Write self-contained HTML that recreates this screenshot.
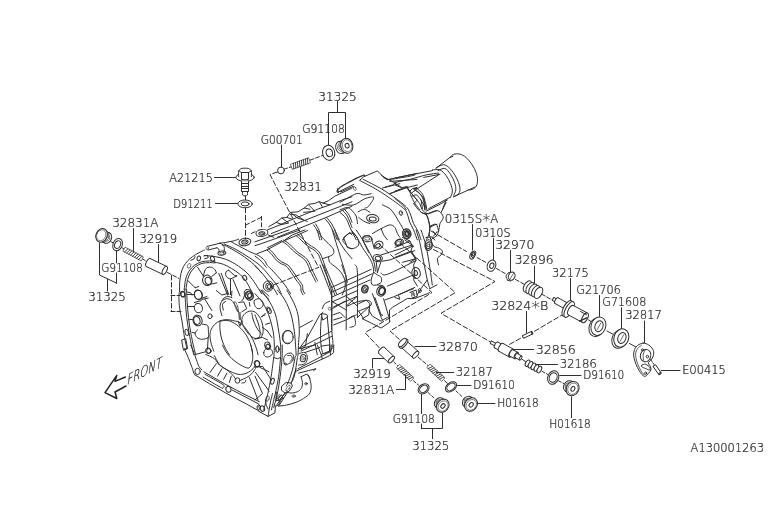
<!DOCTYPE html>
<html lang="en"><head><meta charset="utf-8"><title>A130001263</title>
<style>
html,body{margin:0;padding:0;background:#fff;}
body{width:778px;height:522px;overflow:hidden;}
svg{display:block;}
.g path,.g ellipse,.g circle{fill:none;stroke:#2e2e2e;stroke-width:1.0;stroke-linecap:round;stroke-linejoin:round;}
text{font-family:"DejaVu Sans Light","DejaVu Sans","Liberation Sans",sans-serif;font-size:11.6px;fill:#333;}
.ast{font-size:16px;}
svg{will-change:transform;transform:translateZ(0);}
.t{opacity:0.999;}
.front{font-size:12px;}
</style></head><body>
<svg width="778" height="522" viewBox="0 0 778 522">
<rect width="778" height="522" fill="#fff"/>
<g class="g">
<path d="M337.5 101.5 L337.5 112"/>
<path d="M328.5 145 L328.5 112.5 L345.5 112.5 L345.5 138"/>
<path d="M281.5 145 L281.5 167"/>
<path d="M300.5 167 L300.5 181.5"/>
<path d="M284.5 169 L291.5 166.8" style="stroke-dasharray:3 2"/>
<path d="M310 160.2 L322.5 155.5" style="stroke-dasharray:4 2"/>
<ellipse cx="281" cy="170.5" rx="3.4" ry="3.4"/>
<path d="M292.6 169.2 L310.5 162.8 L308.7 157.8 L290.8 164.2 Z" style="stroke-width:0.7;fill:#fff"/>
<path d="M293.8 168.8 L293.5 163.2" style="stroke-width:0.9"/>
<path d="M295.8 168.1 L295.5 162.5" style="stroke-width:0.9"/>
<path d="M297.8 167.4 L297.5 161.8" style="stroke-width:0.9"/>
<path d="M299.8 166.7 L299.5 161" style="stroke-width:0.9"/>
<path d="M301.8 166 L301.5 160.3" style="stroke-width:0.9"/>
<path d="M303.8 165.2 L303.5 159.6" style="stroke-width:0.9"/>
<path d="M305.8 164.5 L305.5 158.9" style="stroke-width:0.9"/>
<path d="M307.8 163.8 L307.5 158.2" style="stroke-width:0.9"/>
<ellipse cx="340.5" cy="147.5" rx="4.8" ry="6.1" transform="rotate(-15 340.5 147.5)" style="fill:#fff"/>
<path d="M348.4 151.7 L342.1 153.4 L338.9 141.6 L345.2 139.9 Z" style="fill:#fff;stroke:none"/>
<path d="M348.4 151.7 L342.1 153.4"/>
<path d="M345.2 139.9 L338.9 141.6"/>
<path d="M343.7 152.9 C342.6 152.2 338 150.3 337.5 148.3 C336.9 146.3 340 142.4 340.5 141.2" style="stroke-width:0.7"/>
<path d="M345.2 152.5 C344.2 151.7 339.5 149.8 339 147.9 C338.5 145.9 341.6 142 342.1 140.8" style="stroke-width:0.7"/>
<path d="M346.8 152.1 C345.8 151.3 341.1 149.4 340.6 147.5 C340.1 145.5 343.1 141.5 343.7 140.3" style="stroke-width:0.7"/>
<ellipse cx="346.8" cy="145.8" rx="6" ry="7.6" transform="rotate(-15 346.8 145.8)" style="fill:#fff"/>
<ellipse cx="347.2" cy="145.7" rx="4.8" ry="6.1" transform="rotate(-15 347.2 145.7)" style="stroke-width:0.55"/>
<ellipse cx="347.1" cy="145.7" rx="2" ry="2.3" transform="rotate(-15 347.1 145.7)"/>
<ellipse cx="328.7" cy="152.8" rx="6.1" ry="7.5" transform="rotate(-12 328.7 152.8)" style="fill:#fff"/>
<ellipse cx="329.3" cy="152.8" rx="3.2" ry="3.9" transform="rotate(-12 329.3 152.8)"/>
<path d="M277.5 172 L270 174.5 L288.4 210 L318.6 267.4" style="stroke-dasharray:5 2.5"/>
<path d="M214.5 177.5 L236.5 177.5"/>
<path d="M215.5 203.5 L237.5 203.5"/>
<ellipse cx="245.1" cy="177.3" rx="9.2" ry="4" style="fill:#fff"/>
<path d="M238.7 176.6 C238.7 175.7 238.3 172.3 238.7 171 C239.1 169.7 240.2 169.1 241.3 168.6 C242.4 168.1 243.8 168.2 245 168.2 C246.2 168.2 247.6 168.1 248.7 168.6 C249.8 169.1 250.9 169.7 251.3 171 C251.7 172.3 251.3 175.7 251.3 176.6" style="fill:#fff"/>
<path d="M241.6 172.5 L248.4 172.5"/>
<path d="M241.5 172.6 L241.5 179.2"/>
<path d="M248.5 172.6 L248.5 179.2"/>
<path d="M238.9 170.8 L241.6 172.6"/>
<path d="M251.1 170.8 L248.4 172.6"/>
<path d="M241.6 179.2 C242.2 179.3 243.9 179.9 245 179.9 C246.1 179.9 247.8 179.3 248.4 179.2"/>
<path d="M241.5 181.2 L241.5 191.5 L248.5 191.5 L248.5 181.2" style="fill:#fff"/>
<path d="M241.6 183.5 L248.6 183.5"/>
<path d="M241.6 186.5 L248.6 186.5"/>
<path d="M241.6 188.5 L248.6 188.5"/>
<path d="M242.7 191.8 C242.7 192.3 242.3 194.3 242.7 195 C243.1 195.7 244.2 196 245 196 C245.8 196 247 195.7 247.4 195 C247.8 194.3 247.4 192.3 247.4 191.8"/>
<path d="M245.5 196 L245.5 199.6"/>
<ellipse cx="245.1" cy="203.9" rx="7.2" ry="3.9" style="fill:#fff"/>
<ellipse cx="245.1" cy="203.9" rx="4" ry="2"/>
<path d="M245.5 207.8 L245.5 239" style="stroke-dasharray:5 2.5"/>
<path d="M245.8 225 L261.3 217.3" style="stroke-dasharray:4 2.5"/>
<path d="M261.5 216.3 L261.5 229" style="stroke-dasharray:4 2.5"/>
<path d="M133.5 228.5 L133.5 254"/>
<path d="M158.5 244.5 L158.5 262.5"/>
<path d="M99.5 243 L99.5 275 L116.7 283.2"/>
<path d="M116.5 250.5 L116.5 262.8"/>
<path d="M116.5 273 L116.5 283.2"/>
<path d="M107.5 279.3 L107.5 291"/>
<path d="M106.5 239.5 L113.5 243" style="stroke-dasharray:3 2"/>
<path d="M121.5 247.5 L125 249.5" style="stroke-dasharray:3 2"/>
<path d="M142.5 259 L147 261.5" style="stroke-dasharray:3 2"/>
<path d="M167.5 272.5 L179 278.5" style="stroke-dasharray:4 2"/>
<path d="M171.5 275.5 L171.5 311" style="stroke-dasharray:4.5 2.5"/>
<path d="M171 295.5 L180 295.5" style="stroke-dasharray:4 2"/>
<path d="M171 311.5 L181 311.5" style="stroke-dasharray:4 2"/>
<ellipse cx="107" cy="237.9" rx="4.5" ry="5.6" transform="rotate(205 107 237.9)" style="fill:#fff"/>
<path d="M104 230.3 L109.4 232.9 L104.7 243 L99.2 240.5 Z" style="fill:#fff;stroke:none"/>
<path d="M104 230.3 L109.4 232.9"/>
<path d="M99.2 240.5 L104.7 243"/>
<path d="M108 232.2 C108.3 233.4 110.5 237.5 109.7 239.2 C108.9 240.9 104.4 241.8 103.3 242.4" style="stroke-width:0.7"/>
<path d="M106.7 231.6 C107 232.8 109.2 236.9 108.4 238.6 C107.6 240.3 103 241.2 102 241.7" style="stroke-width:0.7"/>
<path d="M105.3 231 C105.6 232.1 107.8 236.2 107 237.9 C106.2 239.6 101.7 240.6 100.6 241.1" style="stroke-width:0.7"/>
<ellipse cx="101.6" cy="235.4" rx="5.6" ry="7" transform="rotate(205 101.6 235.4)" style="fill:#fff"/>
<ellipse cx="101.2" cy="235.2" rx="4.5" ry="5.6" transform="rotate(205 101.2 235.2)" style="stroke-width:0.55"/>
<ellipse cx="117.6" cy="244.6" rx="4.6" ry="6.4" transform="rotate(22 117.6 244.6)" style="fill:#fff"/>
<ellipse cx="117.6" cy="244.6" rx="2.9" ry="4" transform="rotate(22 117.6 244.6)"/>
<path d="M123.2 251.3 L141.2 260.9 L143.4 256.9 L125.4 247.3 Z" style="stroke-width:0.7;fill:#fff"/>
<path d="M124.5 252 L128.1 248.7" style="stroke-width:0.9"/>
<path d="M126.5 253.1 L130.1 249.8" style="stroke-width:0.9"/>
<path d="M128.5 254.2 L132.1 250.8" style="stroke-width:0.9"/>
<path d="M130.5 255.2 L134.1 251.9" style="stroke-width:0.9"/>
<path d="M132.5 256.3 L136.1 253" style="stroke-width:0.9"/>
<path d="M134.5 257.4 L138.1 254" style="stroke-width:0.9"/>
<path d="M136.5 258.4 L140.1 255.1" style="stroke-width:0.9"/>
<path d="M138.5 259.5 L142.1 256.2" style="stroke-width:0.9"/>
<path d="M146.4 266.6 L162.9 274.4 L166.7 266.4 L150.2 258.6 Z" style="fill:#fff;stroke:none"/>
<ellipse cx="148.3" cy="262.6" rx="2" ry="4.4" transform="rotate(25.3 148.3 262.6)" style="fill:#fff"/>
<path d="M146.4 266.6 L162.9 274.4 L166.7 266.4 L150.2 258.6 Z" style="fill:#fff;stroke:none"/>
<path d="M146.4 266.6 L162.9 274.4"/>
<path d="M150.2 258.6 L166.7 266.4"/>
<ellipse cx="164.8" cy="270.4" rx="2" ry="4.4" transform="rotate(25.3 164.8 270.4)" style="fill:#fff"/>
<path d="M472.5 224.5 L472.5 250"/>
<path d="M493.5 238.5 L493.5 259.5"/>
<path d="M510.5 250.5 L510.5 272"/>
<path d="M534.5 266 L534.5 283"/>
<path d="M570.5 278.5 L570.5 302"/>
<path d="M599.5 295.5 L599.5 316.5"/>
<path d="M621.5 307.8 L621.5 329"/>
<path d="M644.5 321 L644.5 343"/>
<path d="M431 231 L466.5 251.5" style="stroke-dasharray:5 2.5"/>
<path d="M477 257.5 L486 262.5" style="stroke-dasharray:4 2"/>
<path d="M496.5 268.5 L506 274" style="stroke-dasharray:4 2"/>
<path d="M515.5 279.5 L525.5 285" style="stroke-dasharray:4 2"/>
<path d="M541.5 294 L553 300.5" style="stroke-dasharray:4 2"/>
<path d="M588.5 320 L591.5 321.8"/>
<path d="M607 331 L612.5 334"/>
<path d="M629.5 343.5 L636 347"/>
<ellipse cx="472.4" cy="255.4" rx="2.3" ry="3.9" transform="rotate(22 472.4 255.4)" style="fill:#fff"/>
<ellipse cx="473.6" cy="254.2" rx="1.9" ry="3.3" transform="rotate(22 473.6 254.2)" style="fill:#fff"/>
<ellipse cx="473.6" cy="254.2" rx="0.9" ry="1.8" transform="rotate(22 473.6 254.2)"/>
<ellipse cx="491.5" cy="265.7" rx="4.2" ry="5.8" transform="rotate(20 491.5 265.7)" style="fill:#fff"/>
<ellipse cx="491.8" cy="265.7" rx="2" ry="2.8" transform="rotate(20 491.8 265.7)"/>
<path d="M508.3 272.9 C507.9 273.4 506.1 274.8 506 276 C505.9 277.2 507.3 279.5 507.6 280.2"/>
<path d="M508.3 272.9 L511.3 272.4"/>
<path d="M507.6 280.2 L510.6 281"/>
<ellipse cx="511.7" cy="276.2" rx="3.2" ry="4.2" transform="rotate(20 511.7 276.2)" style="fill:#fff"/>
<path d="M510.2 278.8 L513.4 273.6" style="stroke-width:0.7"/>
<ellipse cx="527.5" cy="286.5" rx="3.5" ry="6.2" transform="rotate(29.8 527.5 286.5)" style="fill:#fff"/>
<ellipse cx="530.2" cy="288.1" rx="3.5" ry="6.2" transform="rotate(29.8 530.2 288.1)" style="fill:#fff"/>
<ellipse cx="533" cy="289.6" rx="3.5" ry="6.2" transform="rotate(29.8 533 289.6)" style="fill:#fff"/>
<ellipse cx="535.8" cy="291.2" rx="3.5" ry="6.2" transform="rotate(29.8 535.8 291.2)" style="fill:#fff"/>
<ellipse cx="538.5" cy="292.8" rx="3.5" ry="6.2" transform="rotate(29.8 538.5 292.8)" style="fill:#fff"/>
<path d="M552.8 300.7 L556 302.5 L557.6 299.5 L554.4 297.7 Z" style="fill:#fff;stroke:none"/>
<ellipse cx="553.6" cy="299.2" rx="0.8" ry="1.7" transform="rotate(29.4 553.6 299.2)" style="fill:#fff"/>
<path d="M552.8 300.7 L556 302.5 L557.6 299.5 L554.4 297.7 Z" style="fill:#fff;stroke:none"/>
<path d="M552.8 300.7 L556 302.5"/>
<path d="M554.4 297.7 L557.6 299.5"/>
<ellipse cx="556.8" cy="301" rx="0.8" ry="1.7" transform="rotate(29.4 556.8 301)" style="fill:#fff"/>
<path d="M554.9 303.4 L564.4 308.7 L567.6 303.1 L558.1 297.8 Z" style="fill:#fff;stroke:none"/>
<ellipse cx="556.5" cy="300.6" rx="1.4" ry="3.2" transform="rotate(29.2 556.5 300.6)" style="fill:#fff"/>
<path d="M554.9 303.4 L564.4 308.7 L567.6 303.1 L558.1 297.8 Z" style="fill:#fff;stroke:none"/>
<path d="M554.9 303.4 L564.4 308.7"/>
<path d="M558.1 297.8 L567.6 303.1"/>
<ellipse cx="566" cy="305.9" rx="1.4" ry="3.2" transform="rotate(29.2 566 305.9)" style="fill:#fff"/>
<ellipse cx="567.2" cy="308.3" rx="3.6" ry="8.8" transform="rotate(29 567.2 308.3)" style="fill:#fff"/>
<ellipse cx="569.2" cy="309.5" rx="3.6" ry="8.8" transform="rotate(29 569.2 309.5)" style="fill:#fff"/>
<path d="M568.5 315 L582.5 322.5 L587.5 313.1 L573.5 305.6 Z" style="fill:#fff;stroke:none"/>
<ellipse cx="571" cy="310.3" rx="2.6" ry="5.3" transform="rotate(28.2 571 310.3)" style="fill:#fff"/>
<path d="M568.5 315 L582.5 322.5 L587.5 313.1 L573.5 305.6 Z" style="fill:#fff;stroke:none"/>
<path d="M568.5 315 L582.5 322.5"/>
<path d="M573.5 305.6 L587.5 313.1"/>
<ellipse cx="585" cy="317.8" rx="2.6" ry="5.3" transform="rotate(28.2 585 317.8)" style="fill:#fff"/>
<path d="M580.5 311.5 L586.5 314.8"/>
<path d="M579.5 321.2 L586.8 317.8" style="stroke-width:1.3"/>
<ellipse cx="596.4" cy="327.3" rx="7.3" ry="9.4" transform="rotate(20 596.4 327.3)" style="fill:#fff"/>
<ellipse cx="598.4" cy="326.2" rx="7.3" ry="9.4" transform="rotate(20 598.4 326.2)" style="fill:#fff"/>
<ellipse cx="599" cy="326.2" rx="4" ry="5.6" transform="rotate(20 599 326.2)"/>
<path d="M597.2 329.4 L600.8 323" style="stroke-width:0.7"/>
<ellipse cx="619.3" cy="339.1" rx="7.3" ry="9.4" transform="rotate(20 619.3 339.1)" style="fill:#fff"/>
<ellipse cx="621.3" cy="338" rx="7.3" ry="9.4" transform="rotate(20 621.3 338)" style="fill:#fff"/>
<ellipse cx="621.9" cy="338" rx="4" ry="5.6" transform="rotate(20 621.9 338)"/>
<path d="M620.1 341.2 L623.7 334.8" style="stroke-width:0.7"/>
<path d="M643.2 343.1 C645.1 343 647.3 344.1 648.9 345.1 C650.5 346.2 652 347.9 652.8 349.4 C653.6 350.9 653.9 352.6 653.7 354.2 C653.5 355.8 652.6 357.6 651.8 358.9 C651 360.2 649.5 361.1 648.9 361.8 C648.3 362.5 648 362.2 648.2 363 C648.5 363.8 650 365.4 650.4 366.6 C650.8 367.8 651.2 368.9 650.9 370 C650.6 371.1 649.4 372.3 648.5 373.3 C647.6 374.3 646.5 375.8 645.6 376.2 C644.7 376.6 644.1 376.3 643.2 375.7 C642.3 375.1 641.2 373.8 640.3 372.4 C639.3 371 638.4 369.4 637.5 367.6 C636.6 365.8 635.8 363.9 635.1 361.8 C634.5 359.7 633.7 357.2 633.6 355.1 C633.5 353 634 351 634.6 349.4 C635.2 347.8 636.1 346.6 637.5 345.5 C638.9 344.4 641.3 343.2 643.2 343.1 Z" style="fill:#fff"/>
<path d="M641.5 345.2 C640.9 345.8 638.6 347.1 637.6 348.5 C636.6 349.9 635.8 351.6 635.6 353.5 C635.4 355.4 635.8 357.8 636.4 360 C637 362.2 638 364.8 639 367 C640 369.2 641.5 371.7 642.4 373 C643.3 374.3 644.1 374.3 644.5 374.6" style="stroke-width:0.8"/>
<ellipse cx="645.6" cy="355.6" rx="5.2" ry="6.2" transform="rotate(15 645.6 355.6)"/>
<path d="M645.6 349.5 C645.2 350.2 643.7 352.2 643.3 354 C642.9 355.8 643.4 359 643.4 360" style="stroke-width:0.8"/>
<ellipse cx="647.4" cy="356.6" rx="1.2" ry="1.3"/>
<ellipse cx="642.5" cy="349.9" rx="1" ry="1"/>
<path d="M641.8 365.2 C642.4 364.7 644.2 363.8 645.6 364.2 C647 364.6 649.3 366.6 649.9 367.6 C650.5 368.6 650.1 369.9 649.4 370 C648.7 370.1 646.8 369 645.6 368.5 C644.4 368 642.8 367.7 642.2 367.1 C641.6 366.6 641.2 365.7 641.8 365.2 Z"/>
<ellipse cx="645.7" cy="373.2" rx="1" ry="1.2"/>
<path d="M653.4 366.9 L658.7 374.5 L661.1 372.7 L655.8 365.1 Z" style="fill:#fff;stroke:none"/>
<ellipse cx="654.6" cy="366" rx="0.7" ry="1.5" transform="rotate(55.1 654.6 366)" style="fill:#fff"/>
<path d="M653.4 366.9 L658.7 374.5 L661.1 372.7 L655.8 365.1 Z" style="fill:#fff;stroke:none"/>
<path d="M653.4 366.9 L658.7 374.5"/>
<path d="M655.8 365.1 L661.1 372.7"/>
<ellipse cx="659.9" cy="373.6" rx="0.7" ry="1.5" transform="rotate(55.1 659.9 373.6)" style="fill:#fff"/>
<path d="M650.5 359.5 L654 364.5" style="stroke-dasharray:2.5 1.5"/>
<path d="M661.3 370.5 L680 370.5"/>
<path d="M526.5 311.5 L526.5 332.5"/>
<path d="M523.9 338.1 L532.6 334 L531.4 331.4 L522.7 335.5 Z" style="fill:#fff;stroke:none"/>
<ellipse cx="523.3" cy="336.8" rx="0.6" ry="1.4" transform="rotate(-25.2 523.3 336.8)" style="fill:#fff"/>
<path d="M523.9 338.1 L532.6 334 L531.4 331.4 L522.7 335.5 Z" style="fill:#fff;stroke:none"/>
<path d="M523.9 338.1 L532.6 334"/>
<path d="M522.7 335.5 L531.4 331.4"/>
<ellipse cx="532" cy="332.7" rx="0.6" ry="1.4" transform="rotate(-25.2 532 332.7)" style="fill:#fff"/>
<path d="M534.5 331.3 L561.5 315.3" style="stroke-dasharray:5 2.5"/>
<path d="M520.5 338.3 L507.5 345.5" style="stroke-dasharray:5 2.5"/>
<path d="M433.5 249.5 L495 281.5 L441 313.3 L490.5 342" style="stroke-dasharray:5 2.5"/>
<path d="M490.5 343.6 L495.8 346.5 L497.2 344.1 L491.9 341.2 Z" style="fill:#fff;stroke:none"/>
<ellipse cx="491.2" cy="342.4" rx="0.6" ry="1.4" transform="rotate(28.7 491.2 342.4)" style="fill:#fff"/>
<path d="M490.5 343.6 L495.8 346.5 L497.2 344.1 L491.9 341.2 Z" style="fill:#fff;stroke:none"/>
<path d="M490.5 343.6 L495.8 346.5"/>
<path d="M491.9 341.2 L497.2 344.1"/>
<ellipse cx="496.5" cy="345.3" rx="0.6" ry="1.4" transform="rotate(28.7 496.5 345.3)" style="fill:#fff"/>
<path d="M494.7 347.9 L499.4 350.5 L502.6 344.7 L497.9 342.1 Z" style="fill:#fff;stroke:none"/>
<ellipse cx="496.3" cy="345" rx="1.5" ry="3.3" transform="rotate(29 496.3 345)" style="fill:#fff"/>
<path d="M494.7 347.9 L499.4 350.5 L502.6 344.7 L497.9 342.1 Z" style="fill:#fff;stroke:none"/>
<path d="M494.7 347.9 L499.4 350.5"/>
<path d="M497.9 342.1 L502.6 344.7"/>
<ellipse cx="501" cy="347.6" rx="1.5" ry="3.3" transform="rotate(29 501 347.6)" style="fill:#fff"/>
<path d="M498.9 351.3 L509.4 357.1 L513.6 349.3 L503.1 343.5 Z" style="fill:#fff;stroke:none"/>
<ellipse cx="501" cy="347.4" rx="2" ry="4.4" transform="rotate(28.9 501 347.4)" style="fill:#fff"/>
<path d="M498.9 351.3 L509.4 357.1 L513.6 349.3 L503.1 343.5 Z" style="fill:#fff;stroke:none"/>
<path d="M498.9 351.3 L509.4 357.1"/>
<path d="M503.1 343.5 L513.6 349.3"/>
<ellipse cx="511.5" cy="353.2" rx="2" ry="4.4" transform="rotate(28.9 511.5 353.2)" style="fill:#fff"/>
<path d="M509.8 356.1 L514.6 358.7 L518 352.5 L513.2 349.9 Z" style="fill:#fff;stroke:none"/>
<ellipse cx="511.5" cy="353" rx="1.6" ry="3.5" transform="rotate(28.4 511.5 353)" style="fill:#fff"/>
<path d="M509.8 356.1 L514.6 358.7 L518 352.5 L513.2 349.9 Z" style="fill:#fff;stroke:none"/>
<path d="M509.8 356.1 L514.6 358.7"/>
<path d="M513.2 349.9 L518 352.5"/>
<ellipse cx="516.3" cy="355.6" rx="1.6" ry="3.5" transform="rotate(28.4 516.3 355.6)" style="fill:#fff"/>
<path d="M515.2 357.6 L519.5 360 L521.7 356 L517.4 353.6 Z" style="fill:#fff;stroke:none"/>
<ellipse cx="516.3" cy="355.6" rx="1" ry="2.3" transform="rotate(29.2 516.3 355.6)" style="fill:#fff"/>
<path d="M515.2 357.6 L519.5 360 L521.7 356 L517.4 353.6 Z" style="fill:#fff;stroke:none"/>
<path d="M515.2 357.6 L519.5 360"/>
<path d="M517.4 353.6 L521.7 356"/>
<ellipse cx="520.6" cy="358" rx="1" ry="2.3" transform="rotate(29.2 520.6 358)" style="fill:#fff"/>
<path d="M512.5 349.5 L533.7 349.5"/>
<path d="M522 359.3 L525.5 361.5"/>
<ellipse cx="527.6" cy="363.2" rx="2" ry="3.5" transform="rotate(28.7 527.6 363.2)" style="fill:#fff"/>
<ellipse cx="530.5" cy="364.8" rx="2" ry="3.5" transform="rotate(28.7 530.5 364.8)" style="fill:#fff"/>
<ellipse cx="533.5" cy="366.4" rx="2" ry="3.5" transform="rotate(28.7 533.5 366.4)" style="fill:#fff"/>
<ellipse cx="536.4" cy="368" rx="2" ry="3.5" transform="rotate(28.7 536.4 368)" style="fill:#fff"/>
<ellipse cx="539.3" cy="369.6" rx="2" ry="3.5" transform="rotate(28.7 539.3 369.6)" style="fill:#fff"/>
<path d="M536 364.5 L557.5 364.5"/>
<path d="M542 371.3 L547.5 374.3" style="stroke-dasharray:3 2"/>
<ellipse cx="553.2" cy="377.5" rx="5.4" ry="7" transform="rotate(22 553.2 377.5)" style="fill:#fff"/>
<ellipse cx="553.2" cy="377.5" rx="3.8" ry="4.9" transform="rotate(22 553.2 377.5)"/>
<path d="M559.7 375.5 L581 375.5"/>
<path d="M558.5 380.8 L564 383.7" style="stroke-dasharray:3 2"/>
<ellipse cx="568.7" cy="386.4" rx="5" ry="5.9" transform="rotate(30 568.7 386.4)" style="fill:#fff"/>
<path d="M569.6 393.7 L565.7 391.5 L571.7 381.2 L575.6 383.5 Z" style="fill:#fff;stroke:none"/>
<path d="M569.6 393.7 L565.7 391.5"/>
<path d="M575.6 383.5 L571.7 381.2"/>
<path d="M566.7 392 C566.5 390.8 564.4 386.1 565.4 384.4 C566.4 382.7 571.4 382.2 572.6 381.8" style="stroke-width:0.7"/>
<path d="M567.7 392.6 C567.5 391.3 565.4 386.7 566.4 385 C567.3 383.3 572.4 382.8 573.6 382.3" style="stroke-width:0.7"/>
<path d="M568.7 393.2 C568.4 391.9 566.3 387.3 567.3 385.6 C568.3 383.8 573.4 383.4 574.6 382.9" style="stroke-width:0.7"/>
<ellipse cx="572.6" cy="388.6" rx="6.2" ry="7.4" transform="rotate(30 572.6 388.6)" style="fill:#fff"/>
<ellipse cx="572.9" cy="388.8" rx="5" ry="5.9" transform="rotate(30 572.9 388.8)" style="stroke-width:0.55"/>
<ellipse cx="572.9" cy="388.8" rx="1.8" ry="2.5" transform="rotate(30 572.9 388.8)"/>
<path d="M571.5 396.8 L571.5 417.6"/>
<path d="M400 243 L455.3 292.6 L390 331 L400 340" style="stroke-dasharray:5 2.5"/>
<path d="M401.4 347.5 L412.9 357.8 L418.5 351.6 L407 341.3 Z" style="fill:#fff;stroke:none"/>
<ellipse cx="404.2" cy="344.4" rx="1.9" ry="4.2" transform="rotate(41.8 404.2 344.4)" style="fill:#fff"/>
<path d="M401.4 347.5 L412.9 357.8 L418.5 351.6 L407 341.3 Z" style="fill:#fff;stroke:none"/>
<path d="M401.4 347.5 L412.9 357.8"/>
<path d="M407 341.3 L418.5 351.6"/>
<ellipse cx="415.7" cy="354.7" rx="1.9" ry="4.2" transform="rotate(41.8 415.7 354.7)" style="fill:#fff"/>
<ellipse cx="403.6" cy="343.6" rx="2.6" ry="5.6" transform="rotate(42 403.6 343.6)" style="fill:#fff"/>
<ellipse cx="402.4" cy="342.5" rx="2.4" ry="5.2" transform="rotate(42 402.4 342.5)" style="fill:#fff"/>
<path d="M415 346.5 L436 346.5"/>
<path d="M418.3 357.2 L428 365.6" style="stroke-dasharray:4 2"/>
<path d="M427.1 367.7 L441.7 381.3 L444.9 377.9 L430.3 364.3 Z" style="stroke-width:0.7;fill:#fff"/>
<path d="M428.2 368.6 L432.5 366.4" style="stroke-width:0.9"/>
<path d="M429.8 370.2 L434.1 367.9" style="stroke-width:0.9"/>
<path d="M431.4 371.7 L435.7 369.4" style="stroke-width:0.9"/>
<path d="M433 373.2 L437.3 370.9" style="stroke-width:0.9"/>
<path d="M434.7 374.7 L439 372.4" style="stroke-width:0.9"/>
<path d="M436.3 376.2 L440.6 373.9" style="stroke-width:0.9"/>
<path d="M437.9 377.7 L442.2 375.4" style="stroke-width:0.9"/>
<path d="M439.5 379.2 L443.8 377" style="stroke-width:0.9"/>
<path d="M436.5 372.5 L453.7 372.5"/>
<path d="M444.5 380.7 L447.5 383.3"/>
<ellipse cx="451" cy="386.9" rx="6.4" ry="4.2" transform="rotate(-38 451 386.9)" style="fill:#fff"/>
<ellipse cx="451" cy="386.9" rx="4.7" ry="3.1" transform="rotate(-38 451 386.9)"/>
<path d="M457.5 385.5 L471 385.5"/>
<path d="M456 391 L462.5 397" style="stroke-dasharray:3 2"/>
<ellipse cx="467.6" cy="401.7" rx="4.8" ry="5.8" transform="rotate(40 467.6 401.7)" style="fill:#fff"/>
<path d="M467.3 409 L463.9 406.1 L471.3 397.3 L474.7 400.2 Z" style="fill:#fff;stroke:none"/>
<path d="M467.3 409 L463.9 406.1"/>
<path d="M474.7 400.2 L471.3 397.3"/>
<path d="M464.7 406.8 C464.7 405.6 463.5 400.8 464.7 399.3 C466 397.9 470.9 398.2 472.1 398" style="stroke-width:0.7"/>
<path d="M465.6 407.6 C465.6 406.3 464.4 401.5 465.6 400.1 C466.8 398.6 471.7 399 473 398.7" style="stroke-width:0.7"/>
<path d="M466.4 408.3 C466.4 407 465.2 402.3 466.5 400.8 C467.7 399.3 472.6 399.7 473.8 399.5" style="stroke-width:0.7"/>
<ellipse cx="471" cy="404.6" rx="6" ry="7.2" transform="rotate(40 471 404.6)" style="fill:#fff"/>
<ellipse cx="471.3" cy="404.9" rx="4.8" ry="5.8" transform="rotate(40 471.3 404.9)" style="stroke-width:0.55"/>
<ellipse cx="471.2" cy="404.8" rx="1.8" ry="2.5" transform="rotate(40 471.2 404.8)"/>
<path d="M477.5 403.5 L495 403.5"/>
<path d="M379.5 244.5 L432 292.6 L365 332.7 L380.5 349" style="stroke-dasharray:5 2.5"/>
<path d="M378.8 353.4 L388.6 362.7 L394.2 356.7 L384.4 347.4 Z" style="fill:#fff;stroke:none"/>
<ellipse cx="381.6" cy="350.4" rx="1.8" ry="4.1" transform="rotate(43.5 381.6 350.4)" style="fill:#fff"/>
<path d="M378.8 353.4 L388.6 362.7 L394.2 356.7 L384.4 347.4 Z" style="fill:#fff;stroke:none"/>
<path d="M378.8 353.4 L388.6 362.7"/>
<path d="M384.4 347.4 L394.2 356.7"/>
<ellipse cx="391.4" cy="359.7" rx="1.8" ry="4.1" transform="rotate(43.5 391.4 359.7)" style="fill:#fff"/>
<path d="M384 358.5 L372.5 358.5 L372.5 368"/>
<path d="M393.8 362 L397.8 365.8" style="stroke-dasharray:3 2"/>
<path d="M396.6 368 L410.7 381.3 L413.9 377.9 L399.8 364.6 Z" style="stroke-width:0.7;fill:#fff"/>
<path d="M397.6 368.9 L401.9 366.7" style="stroke-width:0.9"/>
<path d="M399.2 370.4 L403.5 368.1" style="stroke-width:0.9"/>
<path d="M400.7 371.9 L405.1 369.6" style="stroke-width:0.9"/>
<path d="M402.3 373.3 L406.6 371.1" style="stroke-width:0.9"/>
<path d="M403.9 374.8 L408.2 372.6" style="stroke-width:0.9"/>
<path d="M405.4 376.3 L409.8 374" style="stroke-width:0.9"/>
<path d="M407 377.8 L411.3 375.5" style="stroke-width:0.9"/>
<path d="M408.6 379.2 L412.9 377" style="stroke-width:0.9"/>
<path d="M405.5 375 L405.5 389.5 L396.5 389.5"/>
<path d="M413.5 380.8 L418.5 385" style="stroke-dasharray:3 2"/>
<ellipse cx="423.6" cy="388.8" rx="6" ry="4.5" transform="rotate(-38 423.6 388.8)" style="fill:#fff"/>
<ellipse cx="423.6" cy="388.8" rx="4.3" ry="3.2" transform="rotate(-38 423.6 388.8)"/>
<path d="M428 392.5 L434 398" style="stroke-dasharray:3 2"/>
<ellipse cx="439.4" cy="402.9" rx="4.6" ry="5.6" transform="rotate(40 439.4 402.9)" style="fill:#fff"/>
<path d="M439.2 410.1 L435.8 407.2 L443 398.6 L446.4 401.5 Z" style="fill:#fff;stroke:none"/>
<path d="M439.2 410.1 L435.8 407.2"/>
<path d="M446.4 401.5 L443 398.6"/>
<path d="M436.6 407.9 C436.6 406.7 435.5 402.1 436.7 400.6 C437.9 399.2 442.6 399.6 443.8 399.3" style="stroke-width:0.7"/>
<path d="M437.5 408.6 C437.5 407.4 436.3 402.8 437.5 401.4 C438.7 399.9 443.5 400.3 444.7 400.1" style="stroke-width:0.7"/>
<path d="M438.3 409.4 C438.3 408.2 437.2 403.5 438.4 402.1 C439.6 400.7 444.3 401 445.5 400.8" style="stroke-width:0.7"/>
<ellipse cx="442.8" cy="405.8" rx="5.8" ry="7" transform="rotate(40 442.8 405.8)" style="fill:#fff"/>
<ellipse cx="443.1" cy="406.1" rx="4.6" ry="5.6" transform="rotate(40 443.1 406.1)" style="stroke-width:0.55"/>
<ellipse cx="443" cy="406" rx="1.8" ry="2.5" transform="rotate(40 443 406)"/>
<path d="M421.5 394.5 L421.5 413.5"/>
<path d="M421.5 424 L421.5 428.7"/>
<path d="M421.7 428.5 L442.5 428.5 L442.5 412.7"/>
<path d="M432.5 428.7 L432.5 438.7"/>
<path d="M125.4 377 L115 381.4 L116.8 375.4 L105 392.6 L116.8 398.5 L115 392 L126 386" style="stroke-width:1.5;stroke:#222"/>
<path d="M204.4 250 C203.5 250.4 200.8 251.7 198.8 252.8 C196.8 253.9 194.4 255.2 192.6 256.6 C190.7 257.9 189.1 259.3 187.6 260.9 C186.1 262.6 184.6 264.5 183.5 266.5 C182.4 268.6 181.6 270.8 181 273.4 C180.4 276 180 279.2 179.7 282.1 C179.5 285 179.6 288.3 179.5 290.9 C179.3 293.4 178.8 294.5 178.9 297.5 C178.9 300.5 179.2 304.8 179.7 308.7 C180.3 312.7 181.2 316.4 182 321.2 C182.8 326 183.7 332.8 184.5 337.4 C185.3 342 186.7 346.7 186.7 348.6 C186.7 350.5 184.2 347.3 184.5 348.7 C184.7 350.2 187 354.4 188.2 357.5 C189.5 360.6 191 364.8 192 367.4 C192.9 370 193.3 371.8 193.8 373.1 C194.3 374.3 194.9 374.6 195.1 374.9"/>
<ellipse cx="207.2" cy="248.1" rx="1.2" ry="1.7" transform="rotate(10 207.2 248.1)" style="stroke-width:0.6"/>
<path d="M207.5 246.3 L220 243.2"/>
<path d="M208.2 250 L216.9 247.8"/>
<path d="M220 243.2 C220.5 243.5 222.4 244.1 223.1 245 C223.8 245.9 224.3 247.2 224.4 248.5 C224.5 249.8 223.8 252.1 223.7 252.8"/>
<path d="M216.9 247.8 C217.2 248.1 218.4 248.4 218.8 249.1 C219.1 249.8 219.1 251.7 219.1 252.2"/>
<ellipse cx="221.9" cy="253.1" rx="4" ry="2.1" transform="rotate(-8 221.9 253.1)"/>
<ellipse cx="221.9" cy="253.3" rx="2.1" ry="1.1" transform="rotate(-8 221.9 253.3)" style="stroke-width:0.6"/>
<path d="M220 243.2 C221.1 243.1 224.7 242.6 226.9 242.2 C229 241.9 231.1 241.5 233.1 241 C235.1 240.5 237.8 239.5 238.7 239.2"/>
<ellipse cx="244.9" cy="242" rx="6" ry="3.7" transform="rotate(-10 244.9 242)"/>
<ellipse cx="244.9" cy="242" rx="3.2" ry="2" transform="rotate(-10 244.9 242)"/>
<ellipse cx="244.9" cy="242" rx="1.5" ry="1" transform="rotate(-10 244.9 242)" style="stroke-width:0.6"/>
<path d="M222.2 245.2 C222.9 245.3 223.3 244.7 226.4 246.2 C229.5 247.8 236.2 251.4 240.9 254.5 C245.5 257.6 250.9 261.7 254.3 264.8 C257.8 268 260.4 271.7 261.6 273.1"/>
<path d="M224.3 244.1 C226.2 245 231.6 247.1 235.7 249.3 C239.8 251.6 245 254.8 249.2 257.6 C253.3 260.4 257.3 262.9 260.5 265.9 C263.8 268.8 266.1 271.9 268.8 275.2 C271.6 278.5 275 282.4 277.1 285.5 C279.2 288.7 280.6 292.4 281.3 293.8"/>
<path d="M204.6 255.5 C206.4 255.7 211.5 256 215 256.6 C218.5 257.2 221.9 257.9 225.4 259.2 C228.8 260.4 232.3 262.2 235.7 264.3 C239.2 266.5 243.3 269.6 246.1 272.1 C248.8 274.6 250.2 276.6 252.3 279.3 C254.3 282.1 256.9 286.2 258.5 288.7 C260 291.1 261.1 293 261.6 293.8"/>
<path d="M231.6 242.1 C234.5 243.6 244.7 249.1 249.2 251.4 C253.6 253.6 255.9 254 258.5 255.5 C261.1 257.1 263.2 259.1 264.7 260.7 C266.2 262.3 265.9 263.6 267.3 265.4 C268.7 267.1 270.6 268.6 273 271.1 C275.3 273.6 278.8 277.4 281.3 280.4 C283.7 283.3 285.9 286.4 287.5 288.7 C289 290.9 290.1 293 290.6 293.8"/>
<ellipse cx="268.3" cy="286.1" rx="5" ry="5.2" style="fill:#fff"/>
<ellipse cx="268.8" cy="286.3" rx="3.1" ry="3.4"/>
<ellipse cx="269.1" cy="286.5" rx="1.8" ry="2"/>
<path d="M195.7 354.8 C195.4 353.6 194.7 351.1 193.8 347.4 C193 343.6 191.6 337.4 190.7 332.4 C189.8 327.4 189 322.4 188.5 317.4 C187.9 312.4 187.5 307 187.2 302.5 C186.9 297.9 186.7 292.1 186.5 290 C186.3 287.9 185.8 291.3 186 289.6 C186.2 287.9 186.8 282.6 187.6 279.6 C188.4 276.7 189.4 274.3 190.7 272.2 C192.1 270 193.8 268 195.7 266.5 C197.6 265.1 199.6 264.1 201.9 263.4 C204.2 262.8 207.2 262.6 209.4 262.6 C211.6 262.5 214.1 263 215 262.9 C215.9 262.9 213.6 262 215 262.3 C216.4 262.5 220.5 263.3 223.3 264.3 C226 265.4 228.8 266.8 231.6 268.5 C234.3 270.1 237.4 272 239.8 274.2 C242.3 276.3 244.3 279 246.1 281.4 C247.8 283.8 249.1 286.6 250.2 288.7 C251.3 290.7 252.4 293 252.8 293.8"/>
<path d="M193.8 354.8 C193.5 353.6 192.8 351.1 192 347.4 C191.1 343.6 189.8 337.4 189 332.4 C188.1 327.4 187.3 322.4 186.7 317.4 C186.1 312.4 185.8 307 185.5 302.5 C185.1 297.9 184.9 292.1 184.7 290 C184.5 287.9 184.1 291.4 184.2 289.6 C184.4 287.8 184.9 282.1 185.7 279 C186.5 275.9 187.6 273.4 189.1 271.2 C190.5 268.9 192.4 266.8 194.4 265.3 C196.5 263.8 198.8 262.7 201.3 261.9 C203.8 261.2 207.1 261 209.4 260.9 C211.7 260.8 214.1 261.2 215 261.3"/>
<ellipse cx="189.1" cy="265.9" rx="1.6" ry="2.5" transform="rotate(25 189.1 265.9)" style="stroke-width:0.6"/>
<ellipse cx="198.8" cy="258.4" rx="1.7" ry="2.5" transform="rotate(10 198.8 258.4)"/>
<ellipse cx="212.5" cy="258.8" rx="1.9" ry="2.7" transform="rotate(-20 212.5 258.8)"/>
<ellipse cx="182.6" cy="294" rx="2" ry="2.7" transform="rotate(-10 182.6 294)"/>
<ellipse cx="244.7" cy="277.8" rx="1.9" ry="2.7" transform="rotate(-25 244.7 277.8)"/>
<path d="M203.8 256 L207.5 255.3 L208.2 257.8 L204.7 258.7"/>
<path d="M190.7 260.3 L193.8 259.1 L195.1 256.6"/>
<ellipse cx="207.3" cy="280.3" rx="4.7" ry="5.2" transform="rotate(-15 207.3 280.3)"/>
<ellipse cx="208.2" cy="280.9" rx="3" ry="3.7" transform="rotate(-15 208.2 280.9)"/>
<path d="M204.7 270.9 C205 270.4 205.8 268.4 206.9 267.8 C208 267.2 209.9 266.9 211.3 267.2 C212.6 267.5 214.2 268.7 215 269.7 C215.8 270.6 216.1 272.3 216.3 272.8"/>
<path d="M204.7 270.9 L203.2 276.5"/>
<path d="M216.3 272.8 L211.7 276.5"/>
<path d="M211.9 284 L216.9 282.8"/>
<ellipse cx="198.2" cy="294.6" rx="3.7" ry="4.7" transform="rotate(-15 198.2 294.6)"/>
<path d="M188.2 280.9 L195.1 287.7"/>
<path d="M195.1 287.7 L198.8 286.5"/>
<path d="M197.6 267.2 L203.2 275.9"/>
<path d="M187 292.1 L190.7 292.7 L192 295.2"/>
<path d="M201.9 298.3 L206.9 296.5"/>
<path d="M218.8 273.4 L226.9 293.4"/>
<path d="M221.3 273.4 L228.7 294.6"/>
<path d="M230.5 279 L230.5 294.6"/>
<path d="M233.1 279.6 L240 295.9"/>
<path d="M228.7 270.3 C228.3 270.5 226.8 270.8 226.2 271.5 C225.7 272.3 225.4 273.6 225.6 274.7 C225.8 275.7 226.7 277 227.5 277.8 C228.3 278.5 230.1 278.8 230.6 279"/>
<path d="M228.7 270.3 L234.3 275.3 L236.8 275.9"/>
<path d="M230.6 279 L236.8 275.9"/>
<ellipse cx="248.1" cy="294" rx="3.7" ry="4.7" transform="rotate(-20 248.1 294)"/>
<ellipse cx="249.1" cy="294.6" rx="2.2" ry="3.1" transform="rotate(-20 249.1 294.6)"/>
<path d="M243.7 298.3 L241.8 300.8"/>
<path d="M221.9 300.8 C222.3 300.3 223.3 298.4 224.4 297.7 C225.4 297 226.9 296.5 228.1 296.5 C229.4 296.5 231.2 297.5 231.9 297.7"/>
<ellipse cx="183" cy="294.4" rx="2.1" ry="2.7" transform="rotate(-10 183 294.4)"/>
<ellipse cx="186.7" cy="332.4" rx="1.7" ry="3.1" transform="rotate(-12 186.7 332.4)"/>
<path d="M182 339.9 L185.7 338.6 L187.6 348.6 L183.8 350.1 Z"/>
<ellipse cx="198.4" cy="295" rx="4" ry="4.7" transform="rotate(-15 198.4 295)"/>
<ellipse cx="198.4" cy="308.1" rx="4" ry="4.7" transform="rotate(-15 198.4 308.1)"/>
<ellipse cx="197.6" cy="320.5" rx="4.5" ry="5.4" transform="rotate(-15 197.6 320.5)"/>
<ellipse cx="196.9" cy="320.5" rx="3.1" ry="4" transform="rotate(-15 196.9 320.5)"/>
<ellipse cx="210" cy="316.2" rx="2.1" ry="2.4"/>
<ellipse cx="208.8" cy="351.1" rx="2.2" ry="2.5"/>
<path d="M187 294.5 L194.4 294.5"/>
<path d="M187.6 306.5 L194.4 306.5"/>
<path d="M188.8 319.7 L193.2 319.3"/>
<path d="M201.9 299.4 L208.2 298.1"/>
<path d="M205 299.4 L211.9 310.6"/>
<path d="M194.4 302.5 L201.3 300.6"/>
<path d="M202.5 324.3 C203.4 324.5 206.6 324.4 207.5 325.5 C208.5 326.7 208.3 329.2 208.4 331.1 C208.5 333.1 209.2 336 208.2 337.4 C207.1 338.7 203.8 339.3 201.9 339.3 C200.1 339.3 198.1 338.4 196.9 337.4 C195.8 336.3 195 334.3 195.1 333 C195.2 331.8 197.1 330.4 197.6 329.9"/>
<path d="M208.2 337.4 L207.5 348.6"/>
<path d="M192 332.4 L195.1 333"/>
<path d="M213.8 351.1 C213.3 349.6 211.5 345.3 210.9 342.4 C210.3 339.5 209.7 336.3 210 333.6 C210.4 330.9 211.6 328.2 213.1 326.2 C214.7 324.1 217.1 322.3 219.4 321.2 C221.7 320.1 224.4 319.7 226.9 319.7 C229.4 319.6 232.2 320.4 234.3 320.9 C236.5 321.4 237.9 321.2 240 322.7 C242 324.2 244.6 327 246.8 329.9 C249 332.8 251.4 336.6 253 339.9 C254.7 343.2 256 347.4 256.8 349.9 C257.6 352.3 257.8 354 258 354.8"/>
<path d="M229.4 354.8 C228.7 353.8 226.9 351.1 225.6 348.6 C224.4 346.1 222.8 343 221.9 339.9 C220.9 336.8 220.3 333 220 329.9 C219.7 326.8 220 322.6 220 321.2"/>
<path d="M220 321.2 C221.4 321.1 225.3 319.9 228.1 320.5 C230.9 321.2 234.1 322.9 236.8 324.9 C239.5 326.9 242.1 329.5 244.3 332.4 C246.5 335.3 248.6 339 249.9 342.4 C251.3 345.7 252 350.7 252.4 352.3"/>
<path d="M221.9 315.6 C221.6 314.2 220 309.8 220 307.5 C220 305.1 220.7 302.7 221.9 301.2 C223 299.8 225.2 298.8 226.9 298.7 C228.5 298.6 230.4 299.4 231.9 300.6 C233.3 301.8 234.4 304.2 235.6 306.2 C236.7 308.2 238.1 310.3 238.7 312.4 C239.3 314.6 239.2 318.2 239.3 319.3"/>
<path d="M223.4 310 C223.2 309 222.1 305.8 222.5 304.3 C222.9 302.9 225.1 301.9 225.6 301.5"/>
<ellipse cx="236.5" cy="306.8" rx="1.2" ry="5.6" transform="rotate(-18 236.5 306.8)" style="stroke-width:0.6"/>
<path d="M216.3 290.6 L221.9 295 L226.9 293.7"/>
<path d="M226.9 290.6 L227.5 295"/>
<path d="M231.9 291.2 L231.6 296.2"/>
<path d="M238.7 302.5 L243.7 301.8 L246.8 308.7 L241.8 311.8"/>
<path d="M240 312.4 L240.3 319.9"/>
<path d="M238.1 321.2 L240 326.2 L241.8 321.2"/>
<path d="M241.8 321.2 C241.5 318.7 242.4 316.6 243.7 314.9 C244.9 313.3 247.3 311.6 249.3 311.2 C251.3 310.8 253.7 311.2 255.5 312.4 C257.4 313.7 259.3 316.2 260.5 318.7 C261.8 321.2 262.7 324.7 263 327.4 C263.3 330.1 263.2 333 262.4 334.9 C261.6 336.8 259.8 338.3 258 338.6 C256.3 338.9 253.9 338.2 251.8 336.8 C249.7 335.3 247.2 332.5 245.6 329.9 C243.9 327.3 242.1 323.7 241.8 321.2 Z"/>
<path d="M251.8 313.1 C252.1 314.4 252.6 318.4 253.7 321.2 C254.7 324 256.6 327.7 258 329.9 C259.4 332.1 261.4 333.5 262 334.3"/>
<ellipse cx="249.3" cy="295.6" rx="4" ry="4.7" transform="rotate(-20 249.3 295.6)"/>
<ellipse cx="250.3" cy="296.2" rx="2.5" ry="3.2" transform="rotate(-20 250.3 296.2)"/>
<path d="M254.3 300.6 C255 299.5 257.8 298.4 259.3 298.7 C260.7 299 262.5 301.1 263 302.5 C263.5 303.8 263.2 305.8 262.4 306.8 C261.6 307.9 259.3 308.9 258 308.7 C256.8 308.5 255.5 306.9 254.9 305.6 C254.3 304.2 253.6 301.7 254.3 300.6 Z"/>
<path d="M259.3 290 L269 299.4"/>
<path d="M262.4 290 L269 296.2"/>
<path d="M245.6 292.5 L243.7 297.5"/>
<path d="M249.3 302.5 L249.9 306.2"/>
<path d="M261.8 316.8 L265.5 313.1"/>
<ellipse cx="268" cy="309.3" rx="1.5" ry="2.7" transform="rotate(-20 268 309.3)" style="stroke-width:0.6"/>
<path d="M195.1 374.9 L209.4 383.7 L228.1 394.3 L246.8 404.2 L259.3 411.1"/>
<path d="M190.7 345 C191.2 346.2 192.8 349.8 193.8 352.5 C194.9 355.2 196.1 358.9 196.9 361.2 C197.8 363.5 198 364.7 198.8 366.2 C199.6 367.7 201.4 369.3 201.9 369.9"/>
<ellipse cx="197.6" cy="371.4" rx="2.7" ry="3.1"/>
<path d="M203.8 371.8 L224.4 383.7 L241.8 393 L259.3 401.7"/>
<path d="M205 374.3 C207.8 375.9 218.7 381.9 221.9 383.9 C225.1 385.9 224 385.5 224.1 386.1 C224.2 386.8 223.1 387.8 222.5 388 C221.9 388.2 223.8 389.2 220.6 387.4 C217.4 385.6 206.1 378.9 203.2 377.2"/>
<ellipse cx="228.4" cy="389.3" rx="2.5" ry="3" transform="rotate(-20 228.4 389.3)"/>
<path d="M231.9 389.9 L258 403.6"/>
<path d="M258 403.6 C258.2 403.9 259.3 404.9 259.3 405.5 C259.3 406.1 258.2 407 258 407.3"/>
<path d="M210 372.4 L216.3 363.7"/>
<path d="M217.5 376.2 L221.9 368.7"/>
<path d="M223.7 379.3 L226.9 373.1"/>
<path d="M229.4 382.4 L231.2 376.2"/>
<path d="M205.7 354.4 C207.1 355.1 212.1 356.9 214.4 358.7 C216.7 360.5 217.3 363.1 219.4 365 C221.5 366.8 224.6 368.2 226.9 369.9 C229.1 371.7 231.6 374 233.1 375.5 C234.6 377.1 235.2 378.7 235.6 379.3"/>
<ellipse cx="208.2" cy="350.6" rx="2.7" ry="2.7"/>
<path d="M195.7 354.4 L205 351.9"/>
<ellipse cx="237.5" cy="380.5" rx="2.5" ry="2.7"/>
<path d="M241.8 383 C242.3 382.9 244.3 382.9 244.9 382.4 C245.6 381.9 245.7 380.5 245.8 380.2"/>
<ellipse cx="257.4" cy="363.7" rx="2.5" ry="3"/>
<path d="M214.4 355.6 C215.2 357.1 217.3 362 219.4 364.3 C221.5 366.7 223.7 368 226.9 369.7 C230 371.4 234.8 373.7 238.1 374.3 C241.4 374.9 244.3 374 246.8 373.1 C249.3 372.1 251.7 369.9 253 368.7 C254.4 367.4 254.6 366.1 254.9 365.6"/>
<path d="M222.5 345 C223 346 224.1 348.9 225.6 351.2 C227.2 353.5 229.4 356.4 231.9 358.7 C234.3 361 237.9 363.4 240.6 365 C243.3 366.5 246.3 368.1 248.1 368.1 C249.8 368.1 250.4 366.7 251.2 365 C252 363.2 252.7 360.2 252.8 357.5 C252.9 354.8 252.2 350.8 251.8 348.7 C251.4 346.7 250.8 345.6 250.6 345"/>
<path d="M241.2 379.9 C242.1 379.5 245 378.5 246.8 377.4 C248.6 376.4 250.4 375.1 251.8 373.7 C253.2 372.2 254.7 369.5 255.3 368.7"/>
<path d="M249.3 377.4 L258 399.9"/>
<path d="M255.5 372.4 L265.5 386.1 L269 391.1"/>
<path d="M259.9 367.4 L269 371.8"/>
<path d="M255 293.7 C256.2 295.2 260.2 298.9 262.5 302.5 C264.8 306 266.9 310.2 268.7 314.9 C270.5 319.7 272.1 326.2 273.1 331.1 C274 336.1 274.2 340.9 274.3 344.9 C274.5 348.8 274.1 352.7 274 354.8 C273.8 356.9 274.2 353.9 273.7 357.5 C273.2 361 272.2 369.9 271.2 376.2 C270.2 382.4 268.7 389.3 267.5 394.9 C266.2 400.5 264.4 407.3 263.7 409.8"/>
<path d="M261.2 290 C262.7 292.1 267.6 298.3 270 302.5 C272.4 306.6 274.1 310.2 275.6 314.9 C277 319.7 277.9 326.2 278.7 331.1 C279.5 336.1 280.2 340.9 280.6 344.9 C280.9 348.8 280.6 352.7 280.6 354.8 C280.6 356.9 280.9 353.9 280.6 357.5 C280.2 361 279.6 369.9 278.7 376.2 C277.8 382.4 276.2 389.3 275 394.9 C273.7 400.5 272 407.3 271.5 409.8"/>
<path d="M277.4 290 C278.7 291.7 282.6 295.8 284.9 300 C287.2 304.1 289.6 309.7 291.2 314.9 C292.7 320.1 293.5 326.2 294.3 331.1 C295 336.1 295.2 340.9 295.5 344.9 C295.8 348.8 296.2 352.7 296.1 354.8 C296.1 356.9 295.8 355 295.1 357.5 C294.5 360 293.5 366 292.4 369.9 C291.3 373.9 289.7 378.5 288.7 381.2 C287.6 383.9 286.6 385.3 286.2 386.1"/>
<path d="M286.8 290 C287.9 292.1 291.8 298.3 293.7 302.5 C295.5 306.6 297.1 310.2 298 314.9 C299 319.7 299.2 326.6 299.3 331.1 C299.4 335.7 298.8 338.4 298.6 342.4 C298.4 346.3 298.2 352.3 298 354.8 C297.8 357.4 297.9 354.3 297.4 357.5 C296.9 360.6 295.7 369.7 294.9 373.7 C294.1 377.6 292.8 379.9 292.4 381.2"/>
<path d="M282.2 345 C282.2 347.1 282.4 352.3 282.1 357.5 C281.7 362.7 281 369.9 280.2 376.2 C279.4 382.4 278.2 389.7 277.1 394.9 C276 400.1 274.3 405.3 273.7 407.3"/>
<ellipse cx="269.3" cy="310.6" rx="1.7" ry="3.1" transform="rotate(-20 269.3 310.6)"/>
<ellipse cx="277.4" cy="348.6" rx="1.6" ry="3" transform="rotate(-5 277.4 348.6)" style="stroke-width:0.6"/>
<ellipse cx="277.4" cy="349.4" rx="1.7" ry="3.1"/>
<ellipse cx="272.5" cy="381.2" rx="1.7" ry="3.1" transform="rotate(15 272.5 381.2)"/>
<ellipse cx="267.5" cy="398.6" rx="1.6" ry="2.9" transform="rotate(18 267.5 398.6)" style="stroke-width:0.6"/>
<ellipse cx="258.7" cy="407.3" rx="1.7" ry="2.2"/>
<ellipse cx="287.7" cy="337.1" rx="5.5" ry="6.7"/>
<path d="M292.4 333.6 C292.1 333.2 291.6 331.6 290.5 331.1 C289.5 330.7 287.4 330.5 286.2 331.1 C285 331.8 283.9 333.4 283.4 334.9 C282.9 336.3 282.7 338.5 283.1 339.9 C283.4 341.2 284.5 342.5 285.5 343 C286.6 343.5 288.7 343 289.3 343"/>
<path d="M284.3 363.7 C284 362.7 283.4 360.3 283.7 358.7 C284 357.2 284.9 355.3 286.2 354.4 C287.4 353.4 289.9 352.8 291.2 353.1 C292.4 353.4 293.4 354.9 293.7 356.2 C293.9 357.6 293.2 360 292.4 361.2 C291.6 362.5 289.8 363.1 288.7 363.7 C287.5 364.3 286.3 365 285.5 365 C284.8 365 284.6 364.7 284.3 363.7 Z"/>
<ellipse cx="285.5" cy="363.7" rx="0.7" ry="0.7" style="stroke-width:0.6"/>
<path d="M287.7 355.6 C288.3 355.6 290.4 355.1 291.2 355.6 C291.9 356.1 292.3 357.8 292.2 358.7 C292.1 359.7 290.8 360.8 290.5 361.2"/>
<ellipse cx="303" cy="358.1" rx="2.7" ry="3.7" transform="rotate(10 303 358.1)"/>
<ellipse cx="303" cy="358.3" rx="1.2" ry="1.9" transform="rotate(10 303 358.3)" style="stroke-width:0.6"/>
<path d="M298.6 353.7 C299.7 353.5 303.4 351.9 304.9 352.5 C306.3 353.1 307.4 355.6 307.4 357.5 C307.4 359.3 306.3 362.5 304.9 363.7 C303.4 365 299.7 364.7 298.6 365"/>
<path d="M301.1 376.8 C302.2 376.4 305.9 374 307.4 374.3 C308.8 374.6 309.4 377.9 309.9 378.7"/>
<path d="M301.1 376.8 C301.3 377.7 302.3 380.6 302.4 382.4 C302.5 384.2 302.4 385.9 301.8 387.4 C301.1 388.8 300.2 390.2 298.6 391.1 C297.1 392.1 294.3 392.8 292.4 393 C290.5 393.2 288.3 392.5 287.4 392.4"/>
<ellipse cx="306.1" cy="383.7" rx="1.5" ry="1.2" style="stroke-width:0.6"/>
<ellipse cx="306.1" cy="383.7" rx="0.5" ry="0.5" style="stroke-width:0.6"/>
<ellipse cx="293.7" cy="396.1" rx="1.9" ry="1.2" style="stroke-width:0.6"/>
<ellipse cx="293.7" cy="396.1" rx="0.6" ry="0.5" style="stroke-width:0.6"/>
<path d="M281.8 386.1 L286.2 382.4 L291.2 383 L292.4 386.1 L289.3 391.1 L284.9 393 L281.8 390.5 Z"/>
<ellipse cx="288" cy="388" rx="1.2" ry="3.5" transform="rotate(35 288 388)" style="stroke-width:0.6"/>
<path d="M291.2 383 L296.1 368.7"/>
<path d="M278.1 397.4 L281.8 394.9 L283.1 398 L279.3 401.1 Z"/>
<path d="M276.8 404.9 L284.9 393"/>
<path d="M278.7 406.1 L287.4 392.4"/>
<path d="M296.1 371.2 L314.9 362.5 L329.8 355.6 L333.6 352.5 L333.8 345"/>
<path d="M298 368.7 L317.3 358.7 L331.1 351.2 L331.3 345"/>
<path d="M298.6 373.1 L308.6 370.6 L316.1 368.7 L313.6 370.6"/>
<path d="M299.9 348.7 L314.9 345"/>
<path d="M317.3 345 L321.1 354.4 L329.5 351.2 L329.5 345"/>
<path d="M304.9 352.5 L319.8 347.5"/>
<path d="M321.1 354.4 L322.3 358.7"/>
<path d="M255 376.2 L262.5 393.6 L255 399.9"/>
<path d="M255 367.4 L262.5 366.2 L271.2 379.9"/>
<ellipse cx="256.9" cy="363.7" rx="2.5" ry="3.1" transform="rotate(-20 256.9 363.7)"/>
<path d="M263.7 352.5 C263.9 351.2 265 349.3 266.2 348.7 C267.5 348.2 270.2 348.5 271.2 349.4 C272.2 350.2 272.9 352.5 272.5 353.7 C272 355 270 356.4 268.7 356.8 C267.5 357.3 265.8 356.9 265 356.2 C264.1 355.5 263.5 353.7 263.7 352.5 Z"/>
<ellipse cx="268.1" cy="346.9" rx="2.5" ry="2.7"/>
<path d="M273.7 357.5 L277.4 358.7 L280.6 357.5"/>
<path d="M331.7 290 C331.7 296.2 331.5 318.5 331.7 327.4 C331.9 336.3 333 339.9 332.9 343.6 C332.8 347.4 332.4 348.2 331.1 349.9 C329.7 351.5 325.9 353 324.8 353.6"/>
<path d="M299.3 348.6 L307.4 337.4 L319.8 314.9 L323 312.4"/>
<path d="M299.9 327.4 L312.4 320.5"/>
<path d="M307.4 333.6 L305.5 346.1 L301.1 349.9"/>
<path d="M321.7 313.7 L326.7 314.3 L327.9 316.8 L323 319.9 Z"/>
<path d="M321.7 313.7 C321.5 316.6 320.6 325.7 320.5 331.1 C320.4 336.6 320.7 342.4 321.1 346.1 C321.5 349.9 322.6 352.3 323 353.6"/>
<path d="M327.3 316.8 L329.8 344.9"/>
<path d="M298.6 348.6 L331.7 331.1"/>
<path d="M301.1 351.1 L332.3 336.1"/>
<ellipse cx="329.8" cy="308.7" rx="1.5" ry="1.5" style="stroke-width:0.6"/>
<path d="M322.3 308.7 C322.7 307.9 323.6 305 324.8 303.7 C326.1 302.5 329 301.6 329.8 301.2"/>
<path d="M314.9 342.4 L317.3 354.8"/>
<path d="M321.1 346.1 L329.8 344.9 L330.4 354.8"/>
<path d="M255 314.9 C255.6 316.6 257.9 321.8 258.7 324.9 C259.6 328 260.2 331.6 260.2 333.6 C260.2 335.7 259.6 336.4 258.7 337.4 C257.9 338.3 255.6 338.9 255 339.3"/>
<path d="M261.2 316.8 L265 314.9"/>
<path d="M265.6 324.3 L270 323"/>
<path d="M267.5 331.1 L271.8 337.4"/>
<ellipse cx="267.5" cy="345.5" rx="2.7" ry="3.5" transform="rotate(-15 267.5 345.5)"/>
<ellipse cx="268.1" cy="346.1" rx="1.5" ry="2.1" transform="rotate(-15 268.1 346.1)" style="stroke-width:0.6"/>
<path d="M262.5 327.4 L267.5 331.1"/>
<path d="M255 338.6 L262.5 337.4 L267.5 339.9"/>
<path d="M255 241.8 L288.7 230"/>
<path d="M255 245.6 L261.2 243.7 L287.4 234.4 L299.9 230"/>
<path d="M256.9 253.7 L266.8 250 L281.8 241.8 L296.1 235.6 L307.4 230.6"/>
<path d="M267.5 247.7 L281.8 240.6"/>
<path d="M266.8 250 C267.6 250.6 269.9 252.2 271.2 253.7 C272.6 255.1 273.5 257.1 275 258.7 C276.4 260.2 278.1 261.8 279.9 263 C281.8 264.3 284.3 264.6 286.2 266.2 C288 267.7 289.5 270.1 291.2 272.4 C292.8 274.7 294.6 277.6 296.1 279.9 C297.7 282.2 299.7 284.2 300.5 286.1 C301.3 288 300.7 289.6 301.1 291.1 C301.6 292.6 302.7 294.2 303 294.8"/>
<path d="M268.6 248.8 C269.3 249.5 271.6 251.1 273 252.6 C274.3 254 275.2 256 276.7 257.6 C278.2 259.1 279.8 260.7 281.7 261.9 C283.6 263.2 286 263.5 287.9 265 C289.8 266.6 291.2 269 292.9 271.3 C294.6 273.6 296.3 276.5 297.9 278.8 C299.5 281 301.4 283.1 302.3 285 C303.1 286.9 302.5 288.5 302.9 290 C303.3 291.4 304.4 293.1 304.8 293.7"/>
<path d="M281.8 241.2 C282.7 241.8 285.7 243.5 287.4 245 C289.2 246.4 290.7 248.4 292.4 250 C294.1 251.5 295.5 252.9 297.4 254.3 C299.3 255.8 302 257.1 303.6 258.7 C305.3 260.2 306.3 261.8 307.4 263.7 C308.4 265.5 308.8 267.6 309.9 269.9 C310.9 272.2 312.6 275.3 313.6 277.4 C314.6 279.4 315.5 281.3 315.8 282.1"/>
<path d="M283.6 240.1 C284.5 240.7 287.4 242.4 289.2 243.8 C290.9 245.3 292.5 247.3 294.2 248.8 C295.8 250.4 297.3 251.7 299.1 253.2 C301 254.6 303.7 256 305.4 257.6 C307 259.1 308.1 260.7 309.1 262.5 C310.2 264.4 310.6 266.5 311.6 268.8 C312.6 271.1 314.4 274.2 315.3 276.3 C316.3 278.3 317.2 280.2 317.6 281"/>
<path d="M296.1 235.6 C297 236.3 299.7 238.6 301.1 240 C302.6 241.3 303.4 242.5 304.9 243.7 C306.3 245 308.2 246.3 309.9 247.5 C311.5 248.6 313.4 249.3 314.9 250.6 C316.3 251.8 317.6 253.2 318.6 254.9 C319.6 256.7 320 258.5 321.1 261.2 C322.1 263.9 323.6 268 324.8 271.1 C326.1 274.3 327.3 277 328.6 279.9 C329.8 282.8 331.3 286.1 332.3 288.6 C333.3 291.1 334.4 293.8 334.8 294.8"/>
<path d="M297.9 234.5 C298.7 235.2 301.4 237.5 302.9 238.9 C304.3 240.2 305.2 241.3 306.6 242.6 C308.1 243.8 309.9 245.2 311.6 246.3 C313.3 247.5 315.1 248.2 316.6 249.5 C318.1 250.7 319.3 252 320.3 253.8 C321.4 255.6 321.8 257.3 322.8 260 C323.9 262.8 325.3 266.9 326.6 270 C327.8 273.1 329.1 275.8 330.3 278.8 C331.6 281.7 333 285 334.1 287.5 C335.1 290 336.1 292.7 336.5 293.7"/>
<path d="M273.7 284.9 L296.1 276.1 L318.6 267.4" style="stroke-dasharray:5 2.5"/>
<path d="M255 256.2 C256 257 259.4 259.3 261.2 261.2 C263.1 263 265.4 266.4 266.2 267.4"/>
<path d="M255 266.2 C256.2 267.4 259.4 269.9 262.5 273.6 C265.6 277.4 271.2 285.1 273.7 288.6 C276.2 292.1 276.8 293.8 277.4 294.8"/>
<path d="M322.3 258.7 C324 258.1 330.4 256.4 332.3 254.9 C334.2 253.5 334 251.6 333.6 250 C333.1 248.3 331.7 247 329.8 245 C327.9 242.9 324.4 240 322.3 237.5 C320.3 235 318.2 231.2 317.3 230"/>
<path d="M328.6 257.4 C328.8 258.3 328.6 260.8 329.8 262.4 C331.1 264.1 334.2 265.7 336 267.4 C337.9 269.1 339.6 270.3 341 272.4 C342.5 274.5 344.1 277.4 344.8 279.9 C345.4 282.4 345.4 284.9 345 287.4 C344.6 289.9 342.7 293.6 342.3 294.8"/>
<path d="M332.3 230 C332.9 232.1 334.8 238.3 336 242.5 C337.3 246.6 338.3 250.2 339.8 254.9 C341.2 259.7 343.5 266.6 344.8 271.1 C346 275.7 346.9 280.5 347.3 282.4"/>
<path d="M334.8 230 C335.4 231.7 336.9 236.7 338.5 240 C340.2 243.3 342.5 246.8 344.8 250 C347 253.1 350.8 257.2 352 258.7"/>
<path d="M352 235 L349.8 232.5 L343.5 237.5 L347.3 247.5 L352 248.7"/>
<ellipse cx="261.9" cy="233" rx="6" ry="3.5" transform="rotate(-8 261.9 233)"/>
<ellipse cx="261.9" cy="233.4" rx="3.1" ry="1.7" transform="rotate(-8 261.9 233.4)"/>
<ellipse cx="261.9" cy="233.5" rx="1.5" ry="0.9" transform="rotate(-8 261.9 233.5)" style="stroke-width:0.6"/>
<path d="M268.7 226.7 L276.2 222.4 L281.8 218 L286.8 217.4 L290.5 212.4 L298 211.8 L304.3 208 L308.6 204.3 L314.9 203.4 L319.2 201.6 L323 203.1 L328.6 200.6 L334.8 196.2 L352 188.1"/>
<path d="M267.5 229.9 L279.9 224.9 L292.4 219.3 L304.9 214.3 L317.3 209.3 L329.8 204.9 L342.3 199.9 L352 196.8"/>
<path d="M271.2 233.6 L352 201.8"/>
<path d="M277.4 237.3 L304.9 226.1 L324.8 218 L352 206.2"/>
<path d="M281.8 218 L288.7 223 L279.9 224.9"/>
<path d="M276.2 222.4 L281.8 224.3"/>
<path d="M290.5 212.4 L297.4 218 L307.4 221.4"/>
<path d="M291.2 214.3 L296.1 214.9 L303.6 219.9"/>
<path d="M286.8 217.4 L292.4 219.3"/>
<path d="M308.6 204.9 L314.9 211.2 L303.6 212.4"/>
<path d="M304.3 208 L309.9 209.3"/>
<path d="M323 203.1 L329.8 204.9"/>
<path d="M319.2 201.6 L322.3 206.8"/>
<path d="M337.9 191.2 L341 191.8 L352 186.8"/>
<path d="M337.3 188.7 L337.9 191.2"/>
<path d="M313.6 224.9 C314.2 225.9 316.3 228.6 317.3 231.1 C318.4 233.6 319.4 238.4 319.8 239.8"/>
<path d="M324.8 218.6 C325.7 219.7 328.2 222.2 329.8 224.9 C331.5 227.6 333.6 232.4 334.8 234.9 C336 237.3 336.9 239 337.3 239.8"/>
<path d="M342.3 209.9 C343.1 211 345.6 213.2 347.3 216.1 C348.9 219.1 351.2 225.5 352 227.4"/>
<path d="M315.5 223.9 C316.1 225 318.2 227.8 319.2 230.5 C320.3 233.1 321.3 238.3 321.7 239.8"/>
<path d="M326.7 217.6 C327.5 218.7 330 221.2 331.7 223.9 C333.3 226.6 335.4 231.2 336.7 233.9 C337.9 236.5 338.7 238.8 339.2 239.8"/>
<path d="M344.2 208.9 C345 210 347.8 212.9 349.1 215.1 C350.4 217.4 351.5 221.2 352 222.4"/>
<path d="M284.9 239.8 L292.4 234.9 L304.9 229.9"/>
<path d="M268.1 234.9 L273.7 237.3"/>
<path d="M255 231.7 L251.3 233.6"/>
<path d="M340 191.2 L351.2 185.6 L353.7 184.4"/>
<ellipse cx="354.6" cy="188.3" rx="1.2" ry="2.4" transform="rotate(-30 354.6 188.3)" style="stroke-width:0.6"/>
<path d="M351.8 185.6 L353.7 187.5"/>
<path d="M360 180.6 C362.9 182.2 372 186.7 377.4 190 C382.8 193.2 388.2 197 392.4 199.9 C396.5 202.8 400.1 205.5 402.3 207.4 C404.6 209.3 405.1 209.7 406.1 211.2 C407 212.6 407.3 214.3 408 216.1 C408.6 218 408.9 220.1 409.8 222.4 C410.8 224.7 412.3 227 413.6 229.9 C414.8 232.8 416.7 238.2 417.3 239.8"/>
<path d="M363.1 179.4 C366.1 180.9 375.6 185.5 381.1 188.7 C386.7 191.9 392.2 195.9 396.1 198.7 C400.1 201.5 402.8 203.7 404.8 205.5 C406.9 207.4 407.5 208.1 408.6 209.9 C409.6 211.7 410.2 213.9 411.1 216.1 C411.9 218.4 412.4 221.1 413.6 223.6 C414.7 226.1 416.7 228.4 417.9 231.1 C419.2 233.8 420.5 238.4 421 239.8"/>
<path d="M389.9 193.7 L407.3 187.5 L417.3 185"/>
<path d="M382.4 188.1 L392.4 185 L396.1 182.5"/>
<path d="M406.1 186.8 C406.7 187.6 408.4 189.4 409.8 191.2 C411.3 193 413.2 195.4 414.8 197.4 C416.5 199.5 418.6 201.6 419.8 203.7 C421 205.8 421 208.3 422.3 209.9 C423.5 211.6 425.6 213.2 427.3 213.7 C428.9 214.1 430.6 212.9 432.3 212.4 C433.9 211.9 436.2 210.8 437 210.5"/>
<path d="M413.6 189.3 C414.6 190.1 418.1 191.9 419.8 193.7 C421.5 195.5 422.5 197.4 423.5 199.9 C424.6 202.4 425.6 207.2 426 208.7"/>
<path d="M417.3 188.7 C418.1 189.5 421 191.8 422.3 193.7 C423.5 195.6 424.4 198.9 424.8 199.9"/>
<path d="M381.1 175 C382.2 175.7 384.5 178.8 387.4 179.4 C390.3 179.9 394.9 178.6 398.6 178.1 C402.3 177.6 407.1 176.8 409.8 176.2 C412.5 175.7 414 175.2 414.8 175"/>
<path d="M340 202.4 C342.7 201 352.3 195 356.2 193.7 C360.2 192.5 361.2 195 363.7 195 C366.2 195 369.9 193.9 371.2 193.7"/>
<path d="M342.5 204.3 C344.4 204.4 350 205.9 353.7 204.9 C357.5 204 361.6 199.9 364.9 198.7 C368.3 197.4 373 196.2 373.7 197.4 C374.3 198.7 370.1 204.4 368.7 206.2 C367.2 207.9 365.6 207.7 364.9 208"/>
<ellipse cx="372.7" cy="218.6" rx="6.2" ry="4.1" transform="rotate(10 372.7 218.6)"/>
<ellipse cx="372.7" cy="219" rx="3.5" ry="2" transform="rotate(5 372.7 219)"/>
<path d="M358.7 217.4 C359.5 218 361.8 220.1 363.7 221.1 C365.6 222.2 368.9 223.2 369.9 223.6"/>
<path d="M358.1 211.8 C359.1 211.4 362.3 209.2 364.3 209.3 C366.3 209.4 369 211.9 369.9 212.4"/>
<path d="M382.4 204.9 C383.6 205.5 387.8 207 389.9 208.7 C392 210.3 393.4 212.8 394.9 214.9 C396.3 217 397.4 219.1 398.6 221.1 C399.9 223.2 401.5 225.9 402.3 227.4 C403.2 228.8 403.4 229.4 403.6 229.9"/>
<path d="M340 209.9 C341.2 209.5 345.4 207.2 347.5 207.4 C349.6 207.6 351 209.7 352.5 211.2 C353.9 212.6 355.4 214.1 356.2 216.1 C357 218.2 357.2 222.4 357.5 223.6"/>
<path d="M340 212.4 C341 213.4 344.6 216.1 346.2 218.6 C347.9 221.1 348.3 223.8 350 227.4 C351.6 230.9 355.2 237.8 356.2 239.8"/>
<ellipse cx="401.1" cy="213" rx="1.6" ry="2.5" transform="rotate(-15 401.1 213)" style="stroke-width:0.6"/>
<ellipse cx="406.7" cy="233.6" rx="3.7" ry="4.5" transform="rotate(-15 406.7 233.6)"/>
<ellipse cx="407" cy="233.9" rx="1.7" ry="2.5" transform="rotate(-15 407 233.9)"/>
<path d="M362.4 239.8 C362.9 239.2 363.7 236.7 364.9 236.1 C366.2 235.5 368.7 235.5 369.9 236.1 C371.2 236.7 372 239.2 372.4 239.8"/>
<path d="M372.4 233.6 C373.9 232.8 378.2 230.1 381.1 228.6 C384.1 227.2 387.6 225.1 389.9 224.9 C392.2 224.7 393.6 225.9 394.9 227.4 C396.1 228.8 396.5 231.9 397.4 233.6 C398.2 235.3 399.4 236.7 399.9 237.3"/>
<path d="M381.1 228.6 L383.6 234.9 L387.4 239.8"/>
<path d="M437 224.3 L434.8 224.9 L429.8 227.4 L429.2 234.9 L431 239.8"/>
<path d="M432.9 231.1 L437 236.1"/>
<path d="M433.5 236.1 L437 231.7"/>
<path d="M421 212.4 C422.1 213 425.8 213.7 427.3 216.1 C428.7 218.6 429.4 225.5 429.8 227.4"/>
<path d="M343.1 239.4 C343.9 237.6 347.8 233.6 350 233.1 C352.2 232.6 354.8 234.3 356.2 236.2 C357.7 238.2 359.5 242.9 358.7 245 C357.9 247 353.5 248.9 351.2 248.7 C348.9 248.5 346.3 245.3 345 243.7 C343.6 242.2 342.3 241.1 343.1 239.4 Z"/>
<path d="M351.2 230 C352.1 231 354.3 233.3 356.2 236.2 C358.1 239.1 360.2 243.7 362.4 247.5 C364.7 251.2 368.2 255.6 369.9 258.7 C371.7 261.8 372.4 263.9 373 266.2 C373.7 268.4 373.6 271.4 373.7 272.4"/>
<path d="M356.2 230 C357 231.2 359.3 234.4 361.2 237.5 C363.1 240.6 365.4 244.8 367.4 248.7 C369.5 252.7 372.3 257.4 373.7 261.2 C375 264.9 375.2 269.5 375.5 271.1"/>
<ellipse cx="367.2" cy="238.7" rx="4.7" ry="3" transform="rotate(10 367.2 238.7)"/>
<ellipse cx="367.2" cy="238.7" rx="2.7" ry="1.5" transform="rotate(10 367.2 238.7)" style="stroke-width:0.6"/>
<path d="M362.7 240 L368.7 252.4"/>
<path d="M371.8 239.7 L374.3 248.7"/>
<ellipse cx="378.7" cy="245" rx="4.5" ry="3.7" transform="rotate(-30 378.7 245)"/>
<ellipse cx="378" cy="245.6" rx="2.5" ry="1.7" transform="rotate(-30 378 245.6)"/>
<ellipse cx="377.7" cy="258.1" rx="4.7" ry="3.5" transform="rotate(10 377.7 258.1)"/>
<ellipse cx="378" cy="258.4" rx="2.7" ry="2.1" transform="rotate(10 378 258.4)"/>
<path d="M376.2 261.4 L377.4 272.4"/>
<path d="M381.1 261.2 L377.4 272.4"/>
<ellipse cx="399.2" cy="242.5" rx="4.5" ry="3.1" transform="rotate(-25 399.2 242.5)"/>
<ellipse cx="398.6" cy="242.8" rx="2.5" ry="1.5" transform="rotate(-25 398.6 242.8)" style="stroke-width:0.6"/>
<ellipse cx="406.7" cy="233.5" rx="2.7" ry="3" transform="rotate(-20 406.7 233.5)"/>
<ellipse cx="407" cy="233.7" rx="1.2" ry="1.5" transform="rotate(-20 407 233.7)" style="stroke-width:0.6"/>
<path d="M381.1 254.9 L412.3 245 L413.6 246.8"/>
<path d="M382.4 261.2 L389.9 259.9 L414.8 250.6"/>
<path d="M381.1 273 C382.2 273.2 381.6 276.3 387.4 274.3 C393.2 272.2 411.3 262.8 416.1 260.5"/>
<path d="M387.4 286.1 L414.8 274.3"/>
<path d="M398.6 294.8 L414.8 287.4"/>
<path d="M404.8 240 L412.9 245.6 L411.1 250 L413.6 256.2 L416.1 259.9 L413.6 264.9 L414.8 272.4 L413.6 279.9 L417.3 286.1"/>
<ellipse cx="416.1" cy="273" rx="4.2" ry="5.6" transform="rotate(-10 416.1 273)"/>
<ellipse cx="415.8" cy="273" rx="1.7" ry="2.5" transform="rotate(-10 415.8 273)"/>
<path d="M373.7 272.4 C374.3 272.8 376.2 274.1 377.4 274.9 C378.7 275.7 380.5 276.1 381.1 277.4 C381.8 278.6 381.8 281.1 381.1 282.4 C380.5 283.6 377 284.2 377.4 284.9 C377.8 285.5 382.4 284.9 383.6 286.1 C384.9 287.4 385.3 290.9 384.9 292.3 C384.5 293.8 381.8 294.4 381.1 294.8"/>
<path d="M373.7 272.4 C373.3 273.6 371.4 277.8 371.2 279.9 C371 282 371.4 284 372.4 284.9 C373.5 285.7 376.6 284.9 377.4 284.9"/>
<ellipse cx="381.8" cy="291.1" rx="3.1" ry="3.7" transform="rotate(20 381.8 291.1)"/>
<ellipse cx="364.9" cy="288.6" rx="3.1" ry="3.5" transform="rotate(20 364.9 288.6)"/>
<ellipse cx="364.9" cy="288.9" rx="1.5" ry="1.9" transform="rotate(20 364.9 288.9)" style="stroke-width:0.6"/>
<path d="M416.1 230 C416.7 232.1 418.6 237.3 419.8 242.5 C421 247.7 422.3 254.9 423.5 261.2 C424.8 267.4 426.2 275.3 427.3 279.9 C428.3 284.4 429.4 287.1 429.8 288.6"/>
<path d="M421 230 C421.9 232.7 424.6 240 426 246.2 C427.5 252.4 428.7 261 429.8 267.4 C430.8 273.8 431.9 282 432.3 284.9"/>
<ellipse cx="428.5" cy="244.3" rx="3.5" ry="4.5" transform="rotate(10 428.5 244.3)"/>
<ellipse cx="428.3" cy="244.6" rx="1.6" ry="2.2" transform="rotate(10 428.3 244.6)" style="stroke-width:0.6"/>
<path d="M426 237.5 L432.3 236.9 L434.8 240"/>
<ellipse cx="419.8" cy="290.5" rx="1.2" ry="1.9" transform="rotate(-20 419.8 290.5)" style="stroke-width:0.6"/>
<ellipse cx="412.9" cy="293.6" rx="1.2" ry="1.7" transform="rotate(-20 412.9 293.6)" style="stroke-width:0.6"/>
<path d="M427.3 279.9 L421 288.6 L417.3 294.8"/>
<path d="M429.8 288.6 L437 284.9"/>
<path d="M362.4 318.7 L381.1 328 L389.5 322.4 L389.5 309.9 L392.4 307.4 L407.3 298.5 L414.8 298.5 L427.3 293.7 L429.8 292.5"/>
<path d="M372.4 293.7 L381.1 317.4 L382.4 319.9"/>
<path d="M383.6 298.7 L388.6 316.2 L389.9 321.2"/>
<path d="M374.9 297.5 L381.1 314.9"/>
<ellipse cx="381.8" cy="315.2" rx="0.6" ry="0.7" style="stroke-width:0.6"/>
<path d="M384.9 300 L393.6 296.8 L409.8 290 L413.6 288.7"/>
<path d="M398.6 295.6 L399.9 299.3 L394.9 297.5"/>
<ellipse cx="412.9" cy="295.6" rx="1.4" ry="2.1" transform="rotate(-15 412.9 295.6)" style="stroke-width:0.6"/>
<ellipse cx="419.8" cy="290.6" rx="1.4" ry="2.1" transform="rotate(-15 419.8 290.6)" style="stroke-width:0.6"/>
<path d="M409.8 292.5 L416.1 290 L417.3 296.2 L411.1 298.7"/>
<path d="M368.7 309.9 L372.4 316.2 L381.1 321.2 L387.4 317.4"/>
<path d="M362.4 318.7 L368.7 314.9 L369.9 303.7 L366.2 300 L358.7 303.7"/>
<ellipse cx="364.9" cy="289.4" rx="3" ry="3.7" transform="rotate(15 364.9 289.4)"/>
<ellipse cx="364.9" cy="289.5" rx="1.2" ry="1.9" transform="rotate(15 364.9 289.5)" style="stroke-width:0.6"/>
<ellipse cx="381.1" cy="291.2" rx="4.4" ry="5" transform="rotate(15 381.1 291.2)"/>
<ellipse cx="381.8" cy="291.2" rx="2.5" ry="3.5" transform="rotate(15 381.8 291.2)"/>
<path d="M449.9 157.5 C450.5 156.9 451.9 154.9 453.6 154.4 C455.3 153.8 457.8 153.6 459.8 154.1 C461.9 154.6 464 155.7 466.1 157.5 C468.2 159.3 470.6 162.5 472.3 165 C474 167.4 475.2 169.9 476 172.4 C476.9 174.9 477.5 177.6 477.5 179.9 C477.6 182.2 477.1 184.6 476.3 186.1 C475.5 187.7 473.8 188.6 472.6 189.3 C471.3 189.9 469.2 189.8 468.6 189.9"/>
<path d="M436.1 168.1 L449.9 157.5 L453 156.2"/>
<path d="M453.6 196.7 L468.6 189.9 L474.8 187.1"/>
<path d="M436.1 168.1 C437.4 167.5 441.3 164.6 443.6 164.7 C445.9 164.8 447.8 166.4 449.9 168.4 C451.9 170.5 454.4 174.1 456.1 177.2 C457.8 180.3 459.4 184.4 459.8 187.1 C460.3 189.9 459.9 192 458.8 193.6 C457.8 195.2 454.5 196.2 453.6 196.7"/>
<path d="M438 170.6 C439.2 170.2 442.8 167.8 444.9 168.4 C447 169.1 448.9 172 450.5 174.3 C452.1 176.6 453.7 179.8 454.6 182.4 C455.5 185 456 187.8 455.8 189.9 C455.7 192 454 194.3 453.6 195.1"/>
<path d="M432.4 169.9 C433.7 169.9 437.6 169 439.9 169.9 C442.2 170.9 444.4 173.3 446.1 175.5 C447.9 177.8 449.4 181.1 450.5 183.7 C451.5 186.3 452.4 188.8 452.4 191.1 C452.4 193.4 450.8 196.3 450.5 197.4"/>
<path d="M395 178 L432.4 170.6"/>
<path d="M395 182.4 C397.5 181.9 404.8 180.5 410 179.3 C415.2 178 421.4 176 426.2 174.9 C431 173.9 436.6 173.4 438.6 173.1"/>
<path d="M423.7 177.4 L439.9 174.3"/>
<path d="M428.7 208.6 L449.9 197.4"/>
<path d="M442.4 209.8 L446.1 199.9"/>
<path d="M417.4 188.6 L438.6 174.9"/>
<path d="M406.2 186.8 C406.8 187.7 409.1 190.8 410 192.4 C410.8 193.9 410.2 195.7 411.2 196.1 C412.2 196.5 414.7 194.5 416.2 194.9 C417.7 195.3 418.7 197 419.9 198.6 C421.2 200.3 422.8 203 423.7 204.9 C424.5 206.7 424.7 209 424.9 209.8"/>
<path d="M413.7 188.6 C414.7 189.5 418.1 191.6 419.9 193.6 C421.8 195.7 423.8 198.4 424.9 201.1 C426.1 203.8 426.5 208.4 426.8 209.8"/>
<path d="M395 184.9 C396 185.3 399.4 187.1 401.2 187.4 C403.1 187.7 405.4 186.9 406.2 186.8"/>
<path d="M395 191.1 L402.5 188.6"/>
<path d="M411.2 196.1 C411.8 197.4 413.5 201.3 415 203.6 C416.4 205.9 419.1 208.8 419.9 209.8"/>
<path d="M395 198.6 C396.2 199.7 400.6 203 402.5 204.9 C404.4 206.7 405.6 209 406.2 209.8"/>
<path d="M413.7 188.5 L417.4 188.5"/>
<ellipse cx="400.6" cy="213.1" rx="1.4" ry="2.1" transform="rotate(-20 400.6 213.1)" style="stroke-width:0.6"/>
<ellipse cx="406.8" cy="233.7" rx="4.2" ry="5" transform="rotate(-15 406.8 233.7)"/>
<ellipse cx="407.1" cy="233.9" rx="1.7" ry="2.5" transform="rotate(-15 407.1 233.9)"/>
<path d="M413.7 203.7 C414.7 205 417.9 209.6 419.9 211.2 C422 212.9 423.3 213.8 426.2 213.7 C429.1 213.6 434.7 210.4 437.4 210.6 C440.1 210.8 441.4 213.6 442.4 215 C443.3 216.3 443.4 217.2 443 218.7 C442.6 220.2 440.6 221.6 439.9 223.7 C439.2 225.8 439.3 229.1 438.6 231.2 C438 233.3 437.4 234.7 436.1 236.2 C434.9 237.6 431.6 238.2 431.2 239.9 C430.7 241.6 432.4 244.8 433.7 246.1 C434.9 247.5 437.2 247.2 438.6 248 C440.1 248.8 442 250 442.4 251.1 C442.8 252.3 442 253.6 441.1 254.9 C440.3 256.1 437.8 256.9 437.4 258.6 C437 260.3 438.4 263.8 438.6 264.8"/>
<path d="M426.2 213.7 C426.8 215.8 429.5 222.7 429.9 226.2 C430.3 229.7 429.3 232.6 428.7 234.9 C428 237.2 426.6 239.1 426.2 239.9"/>
<path d="M429.9 226.2 C431 225.9 434.7 223.5 436.1 224.3 C437.6 225.1 438.2 230 438.6 231.2"/>
<path d="M423.7 200 L424.9 210"/>
<path d="M421.2 200 L422.4 208.7"/>
<path d="M413.7 203.7 L417.4 200"/>
<path d="M426.2 211.2 L441.1 203.7 L447.4 200"/>
<path d="M441.1 212.5 L446.1 202.5"/>
<ellipse cx="428.7" cy="246.1" rx="3.5" ry="4.4" transform="rotate(20 428.7 246.1)"/>
<ellipse cx="428.4" cy="246.4" rx="1.5" ry="2.5" transform="rotate(20 428.4 246.4)" style="stroke-width:0.6"/>
<ellipse cx="398.7" cy="242.4" rx="3.5" ry="2.7" transform="rotate(-30 398.7 242.4)"/>
<path d="M395 247.4 L410 241.1 L412.5 246.1 L395 254.9"/>
<path d="M395 257.4 L411.2 251.1 L416.2 258.6 L410 262.3"/>
<path d="M402.5 262.3 L416.2 258.6"/>
<path d="M410 241.1 L402.5 237.4"/>
<path d="M323.7 265 C324.2 266.7 325.8 271.4 326.8 275 C327.9 278.5 329.1 282.7 330 286.2 C330.8 289.7 331.5 288.9 331.8 296.2 C332.1 303.4 331.8 324.2 331.8 329.8"/>
<path d="M320 265 C320.7 266.9 322.9 272.5 324.4 276.2 C325.8 280 327.5 284.1 328.7 287.4 C330 290.8 331.3 294.7 331.8 296.2"/>
<path d="M341.8 265 C342.2 266.2 343.6 269.8 344.3 272.5 C345 275.2 345.9 271.7 346.2 281.2 C346.5 290.8 346.2 321.7 346.2 329.8"/>
<path d="M354.9 265 C355.3 266.2 357 263.8 357.4 272.5 C357.8 281.2 357.4 309.9 357.4 317.4"/>
<path d="M331.8 287.4 L346.2 280.6 L357.4 275.6 L371.1 269.4"/>
<path d="M332.5 291.8 L346.2 285.6 L357.4 280.6 L372.4 273.7"/>
<path d="M332.5 296.8 L346.2 290.6 L357.4 285.6 L369.9 280"/>
<path d="M332.5 301.8 L346.2 295.5 L357.4 290.6"/>
<path d="M333.7 306.8 L346.2 301.2 L357.4 296.2"/>
<path d="M347.4 306.1 C349.1 305.4 354.1 302.7 357.4 301.8 C360.7 300.8 365.1 300.4 367.4 300.5 C369.7 300.6 370.7 301.5 371.1 302.4 C371.5 303.3 371.9 304.7 369.9 306.1 C367.8 307.6 360.5 310.3 358.6 311.1"/>
<path d="M333.1 314.9 L339.9 312.4 L344.9 317.4"/>
<path d="M333.7 319.9 L341.8 317.4"/>
<path d="M333.7 324.9 L346.2 319.9 L356.1 314.9"/>
<path d="M332.5 301.8 L346.2 309.9"/>
<path d="M346.2 296.2 L357.4 306.1"/>
<path d="M346.2 306.1 L357.4 296.2"/>
<path d="M332.5 308.6 L344.9 301.2"/>
<path d="M348.7 318.6 C349.5 318.2 352.5 315.5 353.7 316.1 C354.8 316.7 355.4 320.7 355.5 322.4 C355.6 324 355.2 325.3 354.3 326.1 C353.3 326.9 350.6 327.1 349.9 327.3"/>
<path d="M357.4 317.4 L369.9 306.1"/>
<path d="M358.6 311.1 L363.6 318.6"/>
<path d="M359.7 180.2 L363.6 176.8 L377.4 170.9 L383.3 176.8 L387.3 179.7 L417 173.4"/>
<path d="M389.8 181.4 L417 179.4"/>
<path d="M383.6 176.8 L394.8 183 L402.3 188"/>
<path d="M384.8 187.4 L394.8 184.9 L399.8 183.7"/>
<path d="M389.8 193.6 L402.3 188.7 L407.3 186.8"/>
<path d="M407.3 186.8 C407.7 187.5 408.5 189.4 409.8 191.1 C411 192.9 413.6 195.9 414.8 197.4 C416 198.8 416.6 199.5 417 199.9"/>
<path d="M412.3 192.4 L417 188.9"/>
<path d="M409.8 191.1 L412.3 188.7 L417 187.4"/>
<path d="M338.5 192.6 C338.2 192.4 336.7 192 337 191.1 C337.2 190.3 338 188.9 340 187.4 C341.9 186 344.9 184.4 348.7 182.4 C352.4 180.4 359.7 176.6 362.4 175.6 C365.1 174.5 364.5 176.1 364.9 176.2" style="stroke-width:1.2"/>
<path d="M258.8 411.4 L268.1 416.4 L274.9 412.9 L275.4 406.1 L274.3 404.6"/>
<path d="M268.1 416.4 C268.3 415.2 268.7 411.7 269.2 409.2 C269.6 406.6 270.2 403.5 270.7 400.9 C271.3 398.3 272.2 394.8 272.5 393.6"/>
<path d="M275.9 406.1 L278.5 405 L280.5 400.9"/>
<path d="M278.5 406.1 C279.9 405.9 283.7 405.7 286.8 405 C289.9 404.3 294 403.2 297.1 401.9 C300.2 400.6 303.2 398.8 305.4 397.3 C307.6 395.7 309.1 394.6 310.1 392.6 C311 390.6 311.2 387.8 311.1 385.4 C311 382.9 310.1 379.8 309.5 378.1 C308.9 376.4 307.8 375.5 307.5 375"/>
<path d="M265.5 399.8 L266.1 405 L268.1 409.2"/>
<ellipse cx="262.4" cy="408.6" rx="2.1" ry="2.8" transform="rotate(-25 262.4 408.6)"/>
<path d="M276.4 392.1 L275.9 400.9 L279.5 399.8 L286.8 391.6"/>
<ellipse cx="278.5" cy="396.7" rx="1.2" ry="2.6" transform="rotate(40 278.5 396.7)" style="stroke-width:0.6"/>
</g>
<g class="t">
<text x="318" y="100.6" textLength="38.6" lengthAdjust="spacingAndGlyphs">31325</text>
<text x="318.4" y="100.6" textLength="38.6" lengthAdjust="spacingAndGlyphs">31325</text>
<text x="302" y="133.2" textLength="42.6" lengthAdjust="spacingAndGlyphs">G91108</text>
<text x="302.4" y="133.2" textLength="42.6" lengthAdjust="spacingAndGlyphs">G91108</text>
<text x="260.5" y="143.7" textLength="42.1" lengthAdjust="spacingAndGlyphs">G00701</text>
<text x="260.9" y="143.7" textLength="42.1" lengthAdjust="spacingAndGlyphs">G00701</text>
<text x="284" y="191.2" textLength="37.6" lengthAdjust="spacingAndGlyphs">32831</text>
<text x="284.4" y="191.2" textLength="37.6" lengthAdjust="spacingAndGlyphs">32831</text>
<text x="169" y="181.8" textLength="43.6" lengthAdjust="spacingAndGlyphs">A21215</text>
<text x="169.4" y="181.8" textLength="43.6" lengthAdjust="spacingAndGlyphs">A21215</text>
<text x="173" y="208.3" textLength="39.6" lengthAdjust="spacingAndGlyphs">D91211</text>
<text x="173.4" y="208.3" textLength="39.6" lengthAdjust="spacingAndGlyphs">D91211</text>
<text x="112" y="227" textLength="46.3" lengthAdjust="spacingAndGlyphs">32831A</text>
<text x="112.4" y="227" textLength="46.3" lengthAdjust="spacingAndGlyphs">32831A</text>
<text x="139" y="243.2" textLength="38.1" lengthAdjust="spacingAndGlyphs">32919</text>
<text x="139.4" y="243.2" textLength="38.1" lengthAdjust="spacingAndGlyphs">32919</text>
<text x="101" y="271.8" textLength="41.6" lengthAdjust="spacingAndGlyphs">G91108</text>
<text x="101.4" y="271.8" textLength="41.6" lengthAdjust="spacingAndGlyphs">G91108</text>
<text x="88" y="300.6" textLength="37.6" lengthAdjust="spacingAndGlyphs">31325</text>
<text x="88.4" y="300.6" textLength="37.6" lengthAdjust="spacingAndGlyphs">31325</text>
<text x="444.5" y="223.2" textLength="53.7" lengthAdjust="spacingAndGlyphs">0315S<tspan class="ast" dy="3.2">*</tspan><tspan dy="-3.2">A</tspan></text>
<text x="444.9" y="223.2" textLength="53.7" lengthAdjust="spacingAndGlyphs">0315S<tspan class="ast" dy="3.2">*</tspan><tspan dy="-3.2">A</tspan></text>
<text x="475" y="237" textLength="35.3" lengthAdjust="spacingAndGlyphs">0310S</text>
<text x="475.4" y="237" textLength="35.3" lengthAdjust="spacingAndGlyphs">0310S</text>
<text x="495" y="249" textLength="39.1" lengthAdjust="spacingAndGlyphs">32970</text>
<text x="495.4" y="249" textLength="39.1" lengthAdjust="spacingAndGlyphs">32970</text>
<text x="514.5" y="264.4" textLength="38.8" lengthAdjust="spacingAndGlyphs">32896</text>
<text x="514.9" y="264.4" textLength="38.8" lengthAdjust="spacingAndGlyphs">32896</text>
<text x="551.7" y="277.2" textLength="36.9" lengthAdjust="spacingAndGlyphs">32175</text>
<text x="552.1" y="277.2" textLength="36.9" lengthAdjust="spacingAndGlyphs">32175</text>
<text x="576" y="294" textLength="44.6" lengthAdjust="spacingAndGlyphs">G21706</text>
<text x="576.4" y="294" textLength="44.6" lengthAdjust="spacingAndGlyphs">G21706</text>
<text x="602" y="306.3" textLength="44.1" lengthAdjust="spacingAndGlyphs">G71608</text>
<text x="602.4" y="306.3" textLength="44.1" lengthAdjust="spacingAndGlyphs">G71608</text>
<text x="625" y="319.4" textLength="36.6" lengthAdjust="spacingAndGlyphs">32817</text>
<text x="625.4" y="319.4" textLength="36.6" lengthAdjust="spacingAndGlyphs">32817</text>
<text x="491" y="310.2" textLength="57.1" lengthAdjust="spacingAndGlyphs">32824<tspan class="ast" dy="3.2">*</tspan><tspan dy="-3.2">B</tspan></text>
<text x="491.4" y="310.2" textLength="57.1" lengthAdjust="spacingAndGlyphs">32824<tspan class="ast" dy="3.2">*</tspan><tspan dy="-3.2">B</tspan></text>
<text x="438" y="351.2" textLength="39.6" lengthAdjust="spacingAndGlyphs">32870</text>
<text x="438.4" y="351.2" textLength="39.6" lengthAdjust="spacingAndGlyphs">32870</text>
<text x="535.5" y="353.7" textLength="40.1" lengthAdjust="spacingAndGlyphs">32856</text>
<text x="535.9" y="353.7" textLength="40.1" lengthAdjust="spacingAndGlyphs">32856</text>
<text x="559.5" y="368.2" textLength="37.1" lengthAdjust="spacingAndGlyphs">32186</text>
<text x="559.9" y="368.2" textLength="37.1" lengthAdjust="spacingAndGlyphs">32186</text>
<text x="583" y="379.3" textLength="41.1" lengthAdjust="spacingAndGlyphs">D91610</text>
<text x="583.4" y="379.3" textLength="41.1" lengthAdjust="spacingAndGlyphs">D91610</text>
<text x="455.5" y="376.4" textLength="37.1" lengthAdjust="spacingAndGlyphs">32187</text>
<text x="455.9" y="376.4" textLength="37.1" lengthAdjust="spacingAndGlyphs">32187</text>
<text x="473" y="389" textLength="41.6" lengthAdjust="spacingAndGlyphs">D91610</text>
<text x="473.4" y="389" textLength="41.6" lengthAdjust="spacingAndGlyphs">D91610</text>
<text x="497" y="407.3" textLength="41.6" lengthAdjust="spacingAndGlyphs">H01618</text>
<text x="497.4" y="407.3" textLength="41.6" lengthAdjust="spacingAndGlyphs">H01618</text>
<text x="549" y="427.5" textLength="41.6" lengthAdjust="spacingAndGlyphs">H01618</text>
<text x="549.4" y="427.5" textLength="41.6" lengthAdjust="spacingAndGlyphs">H01618</text>
<text x="682" y="374" textLength="43.6" lengthAdjust="spacingAndGlyphs">E00415</text>
<text x="682.4" y="374" textLength="43.6" lengthAdjust="spacingAndGlyphs">E00415</text>
<text x="353" y="378" textLength="37.6" lengthAdjust="spacingAndGlyphs">32919</text>
<text x="353.4" y="378" textLength="37.6" lengthAdjust="spacingAndGlyphs">32919</text>
<text x="348" y="393.9" textLength="46.1" lengthAdjust="spacingAndGlyphs">32831A</text>
<text x="348.4" y="393.9" textLength="46.1" lengthAdjust="spacingAndGlyphs">32831A</text>
<text x="392.5" y="422.8" textLength="42.1" lengthAdjust="spacingAndGlyphs">G91108</text>
<text x="392.9" y="422.8" textLength="42.1" lengthAdjust="spacingAndGlyphs">G91108</text>
<text x="412" y="450.2" textLength="37.1" lengthAdjust="spacingAndGlyphs">31325</text>
<text x="412.4" y="450.2" textLength="37.1" lengthAdjust="spacingAndGlyphs">31325</text>
<text x="690.3" y="452.4" textLength="73.6" lengthAdjust="spacingAndGlyphs">A130001263</text>
<text x="690.7" y="452.4" textLength="73.6" lengthAdjust="spacingAndGlyphs">A130001263</text>
<text class="front" transform="matrix(0.887 -0.462 -0.17 1.28 126.6 385.2)" x="0" y="0" textLength="39" lengthAdjust="spacingAndGlyphs">FRONT</text>
<text class="front" transform="matrix(0.887 -0.462 -0.17 1.28 126.94999999999999 385.2)" x="0" y="0" textLength="39" lengthAdjust="spacingAndGlyphs">FRONT</text>
</g>
</svg>
</body></html>
